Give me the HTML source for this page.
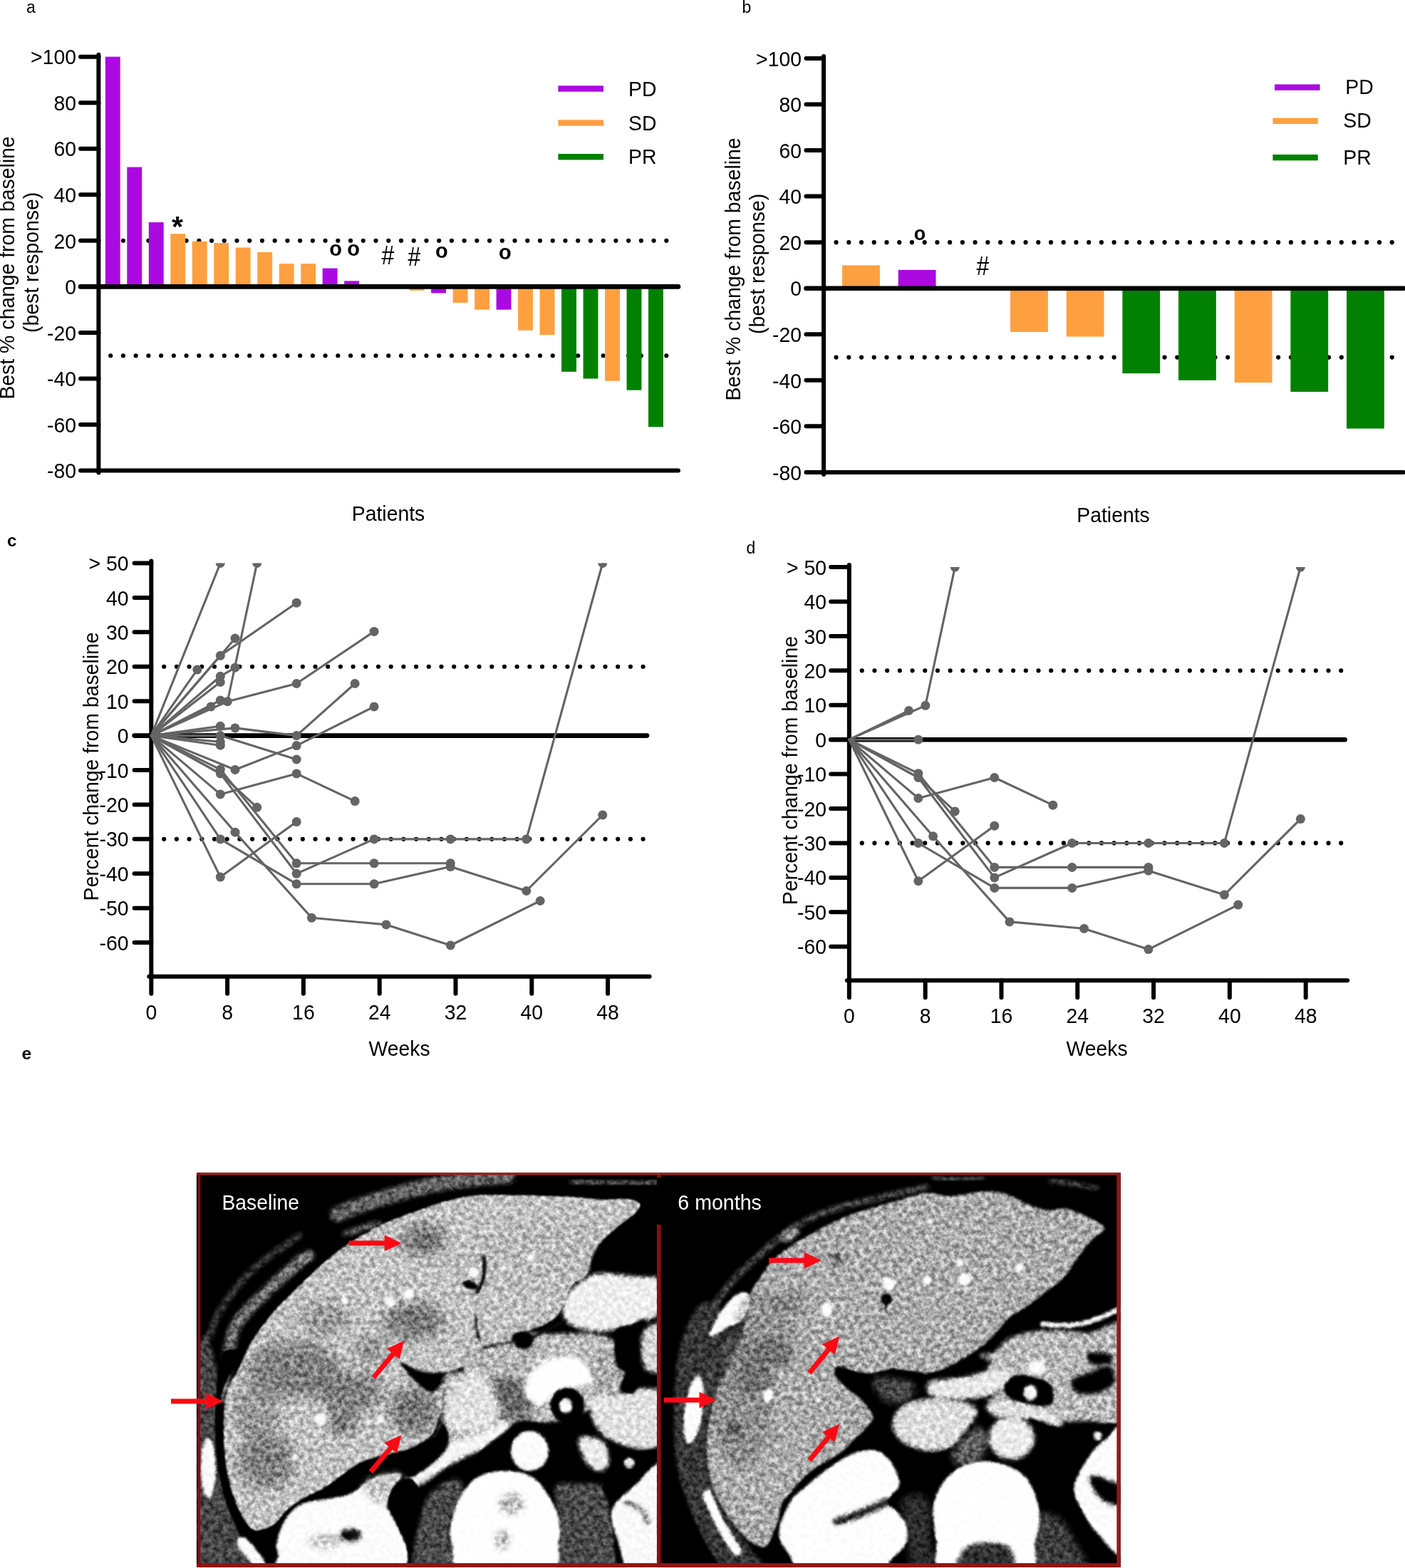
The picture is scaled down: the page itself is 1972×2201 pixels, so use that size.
<!DOCTYPE html>
<html lang="en"><head><meta charset="utf-8"><title>Figure</title>
<style>html,body{margin:0;padding:0;background:#fff}body{width:1972px;height:2201px;overflow:hidden}svg{display:block}text{font-family:'Liberation Sans', Arial, Helvetica, sans-serif}</style>
</head><body>
<svg width="1972" height="2201" viewBox="0 0 1972 2201">
<rect width="1972" height="2201" fill="#fff"/>
<text transform="translate(37 17.7)" font-size="23">a</text>
<text transform="translate(1041.5 17.7)" font-size="23">b</text>
<text transform="translate(10 766.6)" font-size="24" font-weight="bold">c</text>
<text transform="translate(1047.5 776.8)" font-size="23">d</text>
<text transform="translate(30.6 1487)" font-size="24.6" font-weight="bold">e</text>
<line x1="155.2" y1="337.84999999999997" x2="936" y2="337.84999999999997" stroke="#000" stroke-width="6.2" stroke-linecap="round" stroke-dasharray="0 17.73"/>
<line x1="155.2" y1="499.22499999999997" x2="936" y2="499.22499999999997" stroke="#000" stroke-width="6.2" stroke-linecap="round" stroke-dasharray="0 17.73"/>
<rect x="147.80" y="79.65" width="20.9" height="322.75" fill="#ab09e2"/>
<rect x="178.29" y="234.57" width="20.9" height="167.83" fill="#ab09e2"/>
<rect x="208.78" y="312.03" width="20.9" height="90.37" fill="#ab09e2"/>
<rect x="239.27" y="328.17" width="20.9" height="74.23" fill="#ffa040"/>
<rect x="269.76" y="338.82" width="20.9" height="63.58" fill="#ffa040"/>
<rect x="300.25" y="341.08" width="20.9" height="61.32" fill="#ffa040"/>
<rect x="330.74" y="347.53" width="20.9" height="54.87" fill="#ffa040"/>
<rect x="361.23" y="353.99" width="20.9" height="48.41" fill="#ffa040"/>
<rect x="391.72" y="370.12" width="20.9" height="32.27" fill="#ffa040"/>
<rect x="422.21" y="370.12" width="20.9" height="32.27" fill="#ffa040"/>
<rect x="452.70" y="376.58" width="20.9" height="25.82" fill="#ab09e2"/>
<rect x="483.19" y="394.33" width="20.9" height="8.07" fill="#ab09e2"/>
<rect x="574.66" y="402.40" width="20.9" height="5.49" fill="#ffa040"/>
<rect x="605.15" y="402.40" width="20.9" height="9.04" fill="#ab09e2"/>
<rect x="635.64" y="402.40" width="20.9" height="22.59" fill="#ffa040"/>
<rect x="666.13" y="402.40" width="20.9" height="32.27" fill="#ffa040"/>
<rect x="696.62" y="402.40" width="20.9" height="32.27" fill="#ab09e2"/>
<rect x="727.11" y="402.40" width="20.9" height="61.32" fill="#ffa040"/>
<rect x="757.60" y="402.40" width="20.9" height="67.78" fill="#ffa040"/>
<rect x="788.09" y="402.40" width="20.9" height="119.42" fill="#018001"/>
<rect x="818.58" y="402.40" width="20.9" height="129.10" fill="#018001"/>
<rect x="849.07" y="402.40" width="20.9" height="132.33" fill="#ffa040"/>
<rect x="879.56" y="402.40" width="20.9" height="145.24" fill="#018001"/>
<rect x="910.05" y="402.40" width="20.9" height="196.88" fill="#018001"/>
<line x1="138.4" y1="76.64999999999998" x2="138.4" y2="663.5999999999999" stroke="#000" stroke-width="6" stroke-linecap="round"/>
<line x1="113" y1="402.4" x2="952" y2="402.4" stroke="#000" stroke-width="6.6" stroke-linecap="round"/>
<line x1="113" y1="660.5999999999999" x2="952" y2="660.5999999999999" stroke="#000" stroke-width="6" stroke-linecap="round"/>
<line x1="113" y1="79.64999999999998" x2="138.4" y2="79.64999999999998" stroke="#000" stroke-width="6" stroke-linecap="round"/>
<line x1="113" y1="144.2" x2="138.4" y2="144.2" stroke="#000" stroke-width="6" stroke-linecap="round"/>
<line x1="113" y1="208.74999999999997" x2="138.4" y2="208.74999999999997" stroke="#000" stroke-width="6" stroke-linecap="round"/>
<line x1="113" y1="273.29999999999995" x2="138.4" y2="273.29999999999995" stroke="#000" stroke-width="6" stroke-linecap="round"/>
<line x1="113" y1="337.84999999999997" x2="138.4" y2="337.84999999999997" stroke="#000" stroke-width="6" stroke-linecap="round"/>
<line x1="113" y1="466.95" x2="138.4" y2="466.95" stroke="#000" stroke-width="6" stroke-linecap="round"/>
<line x1="113" y1="531.5" x2="138.4" y2="531.5" stroke="#000" stroke-width="6" stroke-linecap="round"/>
<line x1="113" y1="596.05" x2="138.4" y2="596.05" stroke="#000" stroke-width="6" stroke-linecap="round"/>
<text transform="translate(107 90.34999999999998) scale(1 1.06)" font-size="28.4" text-anchor="end">&gt;100</text>
<text transform="translate(107 154.89999999999998) scale(1 1.06)" font-size="28.4" text-anchor="end">80</text>
<text transform="translate(107 219.44999999999996) scale(1 1.06)" font-size="28.4" text-anchor="end">60</text>
<text transform="translate(107 283.99999999999994) scale(1 1.06)" font-size="28.4" text-anchor="end">40</text>
<text transform="translate(107 348.54999999999995) scale(1 1.06)" font-size="28.4" text-anchor="end">20</text>
<text transform="translate(107 413.09999999999997) scale(1 1.06)" font-size="28.4" text-anchor="end">0</text>
<text transform="translate(107 477.65) scale(1 1.06)" font-size="28.4" text-anchor="end">-20</text>
<text transform="translate(107 542.2) scale(1 1.06)" font-size="28.4" text-anchor="end">-40</text>
<text transform="translate(107 606.75) scale(1 1.06)" font-size="28.4" text-anchor="end">-60</text>
<text transform="translate(107 671.3) scale(1 1.06)" font-size="28.4" text-anchor="end">-80</text>
<text transform="translate(20 376) rotate(-90) scale(1 1.06)" font-size="28.4" text-anchor="middle">Best % change from baseline</text>
<text transform="translate(54 368.4) rotate(-90) scale(1 1.06)" font-size="28.4" text-anchor="middle">(best response)</text>
<text transform="translate(545 731) scale(1 1.06)" font-size="28.4" text-anchor="middle">Patients</text>
<rect x="783.4" y="120.3" width="63.60000000000002" height="8.4" fill="#ab09e2"/>
<text transform="translate(882 134.8) scale(1 1.06)" font-size="28.4">PD</text>
<rect x="783.4" y="168.3" width="63.60000000000002" height="8.4" fill="#ffa040"/>
<text transform="translate(882 182.5) scale(1 1.06)" font-size="28.4">SD</text>
<rect x="783.4" y="216.0" width="63.60000000000002" height="8.4" fill="#018001"/>
<text transform="translate(882 230.2) scale(1 1.06)" font-size="28.4">PR</text>
<text transform="translate(249 332.3)" font-size="41" text-anchor="middle" font-weight="bold">*</text>
<text transform="translate(471 358.5)" font-size="29" text-anchor="middle" font-weight="bold">o</text>
<text transform="translate(496 358.5)" font-size="29" text-anchor="middle" font-weight="bold">o</text>
<text transform="translate(544.5 371) scale(1 1.14)" font-size="32" text-anchor="middle">#</text>
<text transform="translate(581.3 372.5) scale(1 1.14)" font-size="32" text-anchor="middle">#</text>
<text transform="translate(619.8 362)" font-size="29" text-anchor="middle" font-weight="bold">o</text>
<text transform="translate(708.8 363.5)" font-size="29" text-anchor="middle" font-weight="bold">o</text>
<line x1="1173.6" y1="340.15" x2="1954" y2="340.15" stroke="#000" stroke-width="6.2" stroke-linecap="round" stroke-dasharray="0 17.73"/>
<line x1="1173.6" y1="501.525" x2="1954" y2="501.525" stroke="#000" stroke-width="6.2" stroke-linecap="round" stroke-dasharray="0 17.73"/>
<rect x="1182.10" y="372.43" width="52.8" height="32.27" fill="#ffa040"/>
<rect x="1260.76" y="378.88" width="52.8" height="25.82" fill="#ab09e2"/>
<rect x="1418.08" y="404.70" width="52.8" height="61.32" fill="#ffa040"/>
<rect x="1496.74" y="404.70" width="52.8" height="67.78" fill="#ffa040"/>
<rect x="1575.40" y="404.70" width="52.8" height="119.42" fill="#018001"/>
<rect x="1654.06" y="404.70" width="52.8" height="129.10" fill="#018001"/>
<rect x="1732.72" y="404.70" width="52.8" height="132.33" fill="#ffa040"/>
<rect x="1811.38" y="404.70" width="52.8" height="145.24" fill="#018001"/>
<rect x="1890.04" y="404.70" width="52.8" height="196.88" fill="#018001"/>
<line x1="1156.1" y1="78.94999999999999" x2="1156.1" y2="665.9" stroke="#000" stroke-width="6" stroke-linecap="round"/>
<line x1="1131.5" y1="404.7" x2="1970" y2="404.7" stroke="#000" stroke-width="6.6" stroke-linecap="round"/>
<line x1="1131.5" y1="662.9" x2="1970" y2="662.9" stroke="#000" stroke-width="6" stroke-linecap="round"/>
<line x1="1131.5" y1="81.94999999999999" x2="1156.1" y2="81.94999999999999" stroke="#000" stroke-width="6" stroke-linecap="round"/>
<line x1="1131.5" y1="146.5" x2="1156.1" y2="146.5" stroke="#000" stroke-width="6" stroke-linecap="round"/>
<line x1="1131.5" y1="211.04999999999998" x2="1156.1" y2="211.04999999999998" stroke="#000" stroke-width="6" stroke-linecap="round"/>
<line x1="1131.5" y1="275.6" x2="1156.1" y2="275.6" stroke="#000" stroke-width="6" stroke-linecap="round"/>
<line x1="1131.5" y1="340.15" x2="1156.1" y2="340.15" stroke="#000" stroke-width="6" stroke-linecap="round"/>
<line x1="1131.5" y1="469.25" x2="1156.1" y2="469.25" stroke="#000" stroke-width="6" stroke-linecap="round"/>
<line x1="1131.5" y1="533.8" x2="1156.1" y2="533.8" stroke="#000" stroke-width="6" stroke-linecap="round"/>
<line x1="1131.5" y1="598.35" x2="1156.1" y2="598.35" stroke="#000" stroke-width="6" stroke-linecap="round"/>
<text transform="translate(1125 92.64999999999999) scale(1 1.06)" font-size="28.4" text-anchor="end">&gt;100</text>
<text transform="translate(1125 157.2) scale(1 1.06)" font-size="28.4" text-anchor="end">80</text>
<text transform="translate(1125 221.74999999999997) scale(1 1.06)" font-size="28.4" text-anchor="end">60</text>
<text transform="translate(1125 286.3) scale(1 1.06)" font-size="28.4" text-anchor="end">40</text>
<text transform="translate(1125 350.84999999999997) scale(1 1.06)" font-size="28.4" text-anchor="end">20</text>
<text transform="translate(1125 415.4) scale(1 1.06)" font-size="28.4" text-anchor="end">0</text>
<text transform="translate(1125 479.95) scale(1 1.06)" font-size="28.4" text-anchor="end">-20</text>
<text transform="translate(1125 544.5) scale(1 1.06)" font-size="28.4" text-anchor="end">-40</text>
<text transform="translate(1125 609.0500000000001) scale(1 1.06)" font-size="28.4" text-anchor="end">-60</text>
<text transform="translate(1125 673.6) scale(1 1.06)" font-size="28.4" text-anchor="end">-80</text>
<text transform="translate(1039 378) rotate(-90) scale(1 1.06)" font-size="28.4" text-anchor="middle">Best % change from baseline</text>
<text transform="translate(1073 370.4) rotate(-90) scale(1 1.06)" font-size="28.4" text-anchor="middle">(best response)</text>
<text transform="translate(1562.5 733) scale(1 1.06)" font-size="28.4" text-anchor="middle">Patients</text>
<rect x="1789.1" y="118.39999999999999" width="63.5" height="8.4" fill="#ab09e2"/>
<text transform="translate(1888.3 132.2) scale(1 1.06)" font-size="28.4">PD</text>
<rect x="1786.4" y="165.60000000000002" width="63.299999999999955" height="8.4" fill="#ffa040"/>
<text transform="translate(1885.3 179.4) scale(1 1.06)" font-size="28.4">SD</text>
<rect x="1786.4" y="216.9" width="63.299999999999955" height="8.4" fill="#018001"/>
<text transform="translate(1885.3 231) scale(1 1.06)" font-size="28.4">PR</text>
<text transform="translate(1291 337.4)" font-size="27" text-anchor="middle" font-weight="bold">o</text>
<text transform="translate(1379.5 386) scale(1 1.14)" font-size="32" text-anchor="middle">#</text>
<line x1="230.2" y1="935.7599999999999" x2="904" y2="935.7599999999999" stroke="#000" stroke-width="6.2" stroke-linecap="round" stroke-dasharray="0 17.695"/>
<line x1="230.2" y1="1177.86" x2="904" y2="1177.86" stroke="#000" stroke-width="6.2" stroke-linecap="round" stroke-dasharray="0 17.695"/>
<line x1="212.3" y1="787.4999999999999" x2="212.3" y2="1394.7" stroke="#000" stroke-width="6" stroke-linecap="round"/>
<line x1="188.6" y1="1032.6" x2="908" y2="1032.6" stroke="#000" stroke-width="6.6" stroke-linecap="round"/>
<line x1="209.3" y1="1370.7" x2="911.6" y2="1370.7" stroke="#000" stroke-width="6" stroke-linecap="round"/>
<line x1="188.6" y1="790.4999999999999" x2="212.3" y2="790.4999999999999" stroke="#000" stroke-width="6" stroke-linecap="round"/>
<line x1="188.6" y1="838.92" x2="212.3" y2="838.92" stroke="#000" stroke-width="6" stroke-linecap="round"/>
<line x1="188.6" y1="887.3399999999999" x2="212.3" y2="887.3399999999999" stroke="#000" stroke-width="6" stroke-linecap="round"/>
<line x1="188.6" y1="935.7599999999999" x2="212.3" y2="935.7599999999999" stroke="#000" stroke-width="6" stroke-linecap="round"/>
<line x1="188.6" y1="984.18" x2="212.3" y2="984.18" stroke="#000" stroke-width="6" stroke-linecap="round"/>
<line x1="188.6" y1="1081.02" x2="212.3" y2="1081.02" stroke="#000" stroke-width="6" stroke-linecap="round"/>
<line x1="188.6" y1="1129.4399999999998" x2="212.3" y2="1129.4399999999998" stroke="#000" stroke-width="6" stroke-linecap="round"/>
<line x1="188.6" y1="1177.86" x2="212.3" y2="1177.86" stroke="#000" stroke-width="6" stroke-linecap="round"/>
<line x1="188.6" y1="1226.28" x2="212.3" y2="1226.28" stroke="#000" stroke-width="6" stroke-linecap="round"/>
<line x1="188.6" y1="1274.6999999999998" x2="212.3" y2="1274.6999999999998" stroke="#000" stroke-width="6" stroke-linecap="round"/>
<line x1="188.6" y1="1323.12" x2="212.3" y2="1323.12" stroke="#000" stroke-width="6" stroke-linecap="round"/>
<text transform="translate(180.5 801.0999999999999) scale(1 1.06)" font-size="28.4" text-anchor="end">&gt; 50</text>
<text transform="translate(180.5 849.52) scale(1 1.06)" font-size="28.4" text-anchor="end">40</text>
<text transform="translate(180.5 897.9399999999999) scale(1 1.06)" font-size="28.4" text-anchor="end">30</text>
<text transform="translate(180.5 946.3599999999999) scale(1 1.06)" font-size="28.4" text-anchor="end">20</text>
<text transform="translate(180.5 994.78) scale(1 1.06)" font-size="28.4" text-anchor="end">10</text>
<text transform="translate(180.5 1043.1999999999998) scale(1 1.06)" font-size="28.4" text-anchor="end">0</text>
<text transform="translate(180.5 1091.62) scale(1 1.06)" font-size="28.4" text-anchor="end">-10</text>
<text transform="translate(180.5 1140.0399999999997) scale(1 1.06)" font-size="28.4" text-anchor="end">-20</text>
<text transform="translate(180.5 1188.4599999999998) scale(1 1.06)" font-size="28.4" text-anchor="end">-30</text>
<text transform="translate(180.5 1236.8799999999999) scale(1 1.06)" font-size="28.4" text-anchor="end">-40</text>
<text transform="translate(180.5 1285.2999999999997) scale(1 1.06)" font-size="28.4" text-anchor="end">-50</text>
<text transform="translate(180.5 1333.7199999999998) scale(1 1.06)" font-size="28.4" text-anchor="end">-60</text>
<text transform="translate(212.3 1430.6) scale(1 1.06)" font-size="28.4" text-anchor="middle">0</text>
<line x1="319.1" y1="1370.7" x2="319.1" y2="1394.7" stroke="#000" stroke-width="6" stroke-linecap="round"/>
<text transform="translate(319.1 1430.6) scale(1 1.06)" font-size="28.4" text-anchor="middle">8</text>
<line x1="425.9" y1="1370.7" x2="425.9" y2="1394.7" stroke="#000" stroke-width="6" stroke-linecap="round"/>
<text transform="translate(425.9 1430.6) scale(1 1.06)" font-size="28.4" text-anchor="middle">16</text>
<line x1="532.7" y1="1370.7" x2="532.7" y2="1394.7" stroke="#000" stroke-width="6" stroke-linecap="round"/>
<text transform="translate(532.7 1430.6) scale(1 1.06)" font-size="28.4" text-anchor="middle">24</text>
<line x1="639.5" y1="1370.7" x2="639.5" y2="1394.7" stroke="#000" stroke-width="6" stroke-linecap="round"/>
<text transform="translate(639.5 1430.6) scale(1 1.06)" font-size="28.4" text-anchor="middle">32</text>
<line x1="746.3" y1="1370.7" x2="746.3" y2="1394.7" stroke="#000" stroke-width="6" stroke-linecap="round"/>
<text transform="translate(746.3 1430.6) scale(1 1.06)" font-size="28.4" text-anchor="middle">40</text>
<line x1="853.0999999999999" y1="1370.7" x2="853.0999999999999" y2="1394.7" stroke="#000" stroke-width="6" stroke-linecap="round"/>
<text transform="translate(853.0999999999999 1430.6) scale(1 1.06)" font-size="28.4" text-anchor="middle">48</text>
<text transform="translate(560.5 1482) scale(1 1.06)" font-size="28.4" text-anchor="middle">Weeks</text>
<text transform="translate(138 1076) rotate(-90) scale(1 1.06)" font-size="28.4" text-anchor="middle">Percent change from baseline</text>
<clipPath id="cc"><rect x="202.3" y="790.4999999999999" width="760" height="700"/></clipPath>
<g clip-path="url(#cc)" stroke="#646464" fill="none" stroke-width="3.1" stroke-linejoin="round" stroke-linecap="round">
<polyline points="212.3,1032.6 296.0,991.9"/>
<polyline points="212.3,1032.6 319.3,984.7 360.7,790.5"/>
<polyline points="212.3,1032.6 309.3,1032.6"/>
<polyline points="212.3,1032.6 309.3,1080.1 416.2,1211.8 525.1,1211.8 632.3,1211.8"/>
<polyline points="212.3,1032.6 309.3,1085.9 416.2,1226.3 525.1,1177.9 632.3,1177.9 738.8,1177.9 845.8,790.5"/>
<polyline points="212.3,1032.6 309.3,1085.9 360.7,1133.3"/>
<polyline points="212.3,1032.6 309.3,1114.9 416.2,1085.9 498.2,1124.6"/>
<polyline points="212.3,1032.6 309.3,1231.1 416.2,1153.6"/>
<polyline points="212.3,1032.6 309.3,1177.9 416.2,1240.8 525.1,1240.8 632.3,1216.6 738.8,1250.5 845.8,1144.0"/>
<polyline points="212.3,1032.6 330.0,1168.2 437.4,1288.3 542.0,1297.9 632.3,1327.0 758.2,1264.5"/>
<polyline points="212.3,1032.6 309.3,790.5"/>
<polyline points="212.3,1032.6 276.8,940.1"/>
<polyline points="212.3,1032.6 309.3,920.3 416.2,846.2"/>
<polyline points="212.3,1032.6 309.3,920.3 330.0,896.1"/>
<polyline points="212.3,1032.6 309.3,949.3 330.0,937.2"/>
<polyline points="212.3,1032.6 309.3,957.5"/>
<polyline points="212.3,1032.6 309.3,983.0 319.3,984.7 416.2,959.5 525.1,886.4"/>
<polyline points="212.3,1032.6 309.3,1019.3"/>
<polyline points="212.3,1032.6 330.0,1021.9 416.2,1032.6 498.2,959.5"/>
<polyline points="212.3,1032.6 309.3,1041.3"/>
<polyline points="212.3,1032.6 309.3,1046.2"/>
<polyline points="212.3,1032.6 309.3,1032.6 416.2,1066.0"/>
<polyline points="212.3,1032.6 330.0,1080.5 416.2,1046.6 525.1,991.9"/>
</g>
<g clip-path="url(#cc)" fill="#646464">
<circle cx="296.0" cy="991.9" r="6.5"/>
<circle cx="319.3" cy="984.7" r="6.5"/>
<circle cx="360.7" cy="790.5" r="6.5"/>
<circle cx="309.3" cy="1032.6" r="6.5"/>
<circle cx="309.3" cy="1080.1" r="6.5"/>
<circle cx="416.2" cy="1211.8" r="6.5"/>
<circle cx="525.1" cy="1211.8" r="6.5"/>
<circle cx="632.3" cy="1211.8" r="6.5"/>
<circle cx="309.3" cy="1085.9" r="6.5"/>
<circle cx="416.2" cy="1226.3" r="6.5"/>
<circle cx="525.1" cy="1177.9" r="6.5"/>
<circle cx="632.3" cy="1177.9" r="6.5"/>
<circle cx="738.8" cy="1177.9" r="6.5"/>
<circle cx="845.8" cy="790.5" r="6.5"/>
<circle cx="360.7" cy="1133.3" r="6.5"/>
<circle cx="309.3" cy="1114.9" r="6.5"/>
<circle cx="416.2" cy="1085.9" r="6.5"/>
<circle cx="498.2" cy="1124.6" r="6.5"/>
<circle cx="309.3" cy="1231.1" r="6.5"/>
<circle cx="416.2" cy="1153.6" r="6.5"/>
<circle cx="309.3" cy="1177.9" r="6.5"/>
<circle cx="416.2" cy="1240.8" r="6.5"/>
<circle cx="525.1" cy="1240.8" r="6.5"/>
<circle cx="632.3" cy="1216.6" r="6.5"/>
<circle cx="738.8" cy="1250.5" r="6.5"/>
<circle cx="845.8" cy="1144.0" r="6.5"/>
<circle cx="330.0" cy="1168.2" r="6.5"/>
<circle cx="437.4" cy="1288.3" r="6.5"/>
<circle cx="542.0" cy="1297.9" r="6.5"/>
<circle cx="632.3" cy="1327.0" r="6.5"/>
<circle cx="758.2" cy="1264.5" r="6.5"/>
<circle cx="309.3" cy="790.5" r="6.5"/>
<circle cx="276.8" cy="940.1" r="6.5"/>
<circle cx="309.3" cy="920.3" r="6.5"/>
<circle cx="416.2" cy="846.2" r="6.5"/>
<circle cx="330.0" cy="896.1" r="6.5"/>
<circle cx="309.3" cy="949.3" r="6.5"/>
<circle cx="330.0" cy="937.2" r="6.5"/>
<circle cx="309.3" cy="957.5" r="6.5"/>
<circle cx="309.3" cy="983.0" r="6.5"/>
<circle cx="416.2" cy="959.5" r="6.5"/>
<circle cx="525.1" cy="886.4" r="6.5"/>
<circle cx="309.3" cy="1019.3" r="6.5"/>
<circle cx="330.0" cy="1021.9" r="6.5"/>
<circle cx="416.2" cy="1032.6" r="6.5"/>
<circle cx="498.2" cy="959.5" r="6.5"/>
<circle cx="309.3" cy="1041.3" r="6.5"/>
<circle cx="309.3" cy="1046.2" r="6.5"/>
<circle cx="416.2" cy="1066.0" r="6.5"/>
<circle cx="330.0" cy="1080.5" r="6.5"/>
<circle cx="416.2" cy="1046.6" r="6.5"/>
<circle cx="525.1" cy="991.9" r="6.5"/>
</g>
<line x1="1209.8" y1="941.3599999999998" x2="1883.6" y2="941.3599999999998" stroke="#000" stroke-width="6.2" stroke-linecap="round" stroke-dasharray="0 17.695"/>
<line x1="1209.8" y1="1183.4599999999998" x2="1883.6" y2="1183.4599999999998" stroke="#000" stroke-width="6.2" stroke-linecap="round" stroke-dasharray="0 17.695"/>
<line x1="1191.9" y1="793.0999999999998" x2="1191.9" y2="1400.3" stroke="#000" stroke-width="6" stroke-linecap="round"/>
<line x1="1166.2" y1="1038.1999999999998" x2="1887.6" y2="1038.1999999999998" stroke="#000" stroke-width="6.6" stroke-linecap="round"/>
<line x1="1188.9" y1="1376.3" x2="1891.2" y2="1376.3" stroke="#000" stroke-width="6" stroke-linecap="round"/>
<line x1="1166.2" y1="796.0999999999998" x2="1191.9" y2="796.0999999999998" stroke="#000" stroke-width="6" stroke-linecap="round"/>
<line x1="1166.2" y1="844.5199999999999" x2="1191.9" y2="844.5199999999999" stroke="#000" stroke-width="6" stroke-linecap="round"/>
<line x1="1166.2" y1="892.9399999999998" x2="1191.9" y2="892.9399999999998" stroke="#000" stroke-width="6" stroke-linecap="round"/>
<line x1="1166.2" y1="941.3599999999998" x2="1191.9" y2="941.3599999999998" stroke="#000" stroke-width="6" stroke-linecap="round"/>
<line x1="1166.2" y1="989.7799999999999" x2="1191.9" y2="989.7799999999999" stroke="#000" stroke-width="6" stroke-linecap="round"/>
<line x1="1166.2" y1="1086.62" x2="1191.9" y2="1086.62" stroke="#000" stroke-width="6" stroke-linecap="round"/>
<line x1="1166.2" y1="1135.0399999999997" x2="1191.9" y2="1135.0399999999997" stroke="#000" stroke-width="6" stroke-linecap="round"/>
<line x1="1166.2" y1="1183.4599999999998" x2="1191.9" y2="1183.4599999999998" stroke="#000" stroke-width="6" stroke-linecap="round"/>
<line x1="1166.2" y1="1231.8799999999999" x2="1191.9" y2="1231.8799999999999" stroke="#000" stroke-width="6" stroke-linecap="round"/>
<line x1="1166.2" y1="1280.2999999999997" x2="1191.9" y2="1280.2999999999997" stroke="#000" stroke-width="6" stroke-linecap="round"/>
<line x1="1166.2" y1="1328.7199999999998" x2="1191.9" y2="1328.7199999999998" stroke="#000" stroke-width="6" stroke-linecap="round"/>
<text transform="translate(1160.1 806.6999999999998) scale(1 1.06)" font-size="28.4" text-anchor="end">&gt; 50</text>
<text transform="translate(1160.1 855.1199999999999) scale(1 1.06)" font-size="28.4" text-anchor="end">40</text>
<text transform="translate(1160.1 903.5399999999998) scale(1 1.06)" font-size="28.4" text-anchor="end">30</text>
<text transform="translate(1160.1 951.9599999999998) scale(1 1.06)" font-size="28.4" text-anchor="end">20</text>
<text transform="translate(1160.1 1000.3799999999999) scale(1 1.06)" font-size="28.4" text-anchor="end">10</text>
<text transform="translate(1160.1 1048.7999999999997) scale(1 1.06)" font-size="28.4" text-anchor="end">0</text>
<text transform="translate(1160.1 1097.2199999999998) scale(1 1.06)" font-size="28.4" text-anchor="end">-10</text>
<text transform="translate(1160.1 1145.6399999999996) scale(1 1.06)" font-size="28.4" text-anchor="end">-20</text>
<text transform="translate(1160.1 1194.0599999999997) scale(1 1.06)" font-size="28.4" text-anchor="end">-30</text>
<text transform="translate(1160.1 1242.4799999999998) scale(1 1.06)" font-size="28.4" text-anchor="end">-40</text>
<text transform="translate(1160.1 1290.8999999999996) scale(1 1.06)" font-size="28.4" text-anchor="end">-50</text>
<text transform="translate(1160.1 1339.3199999999997) scale(1 1.06)" font-size="28.4" text-anchor="end">-60</text>
<text transform="translate(1191.9 1436.1999999999998) scale(1 1.06)" font-size="28.4" text-anchor="middle">0</text>
<line x1="1298.7" y1="1376.3" x2="1298.7" y2="1400.3" stroke="#000" stroke-width="6" stroke-linecap="round"/>
<text transform="translate(1298.7 1436.1999999999998) scale(1 1.06)" font-size="28.4" text-anchor="middle">8</text>
<line x1="1405.5" y1="1376.3" x2="1405.5" y2="1400.3" stroke="#000" stroke-width="6" stroke-linecap="round"/>
<text transform="translate(1405.5 1436.1999999999998) scale(1 1.06)" font-size="28.4" text-anchor="middle">16</text>
<line x1="1512.3000000000002" y1="1376.3" x2="1512.3000000000002" y2="1400.3" stroke="#000" stroke-width="6" stroke-linecap="round"/>
<text transform="translate(1512.3000000000002 1436.1999999999998) scale(1 1.06)" font-size="28.4" text-anchor="middle">24</text>
<line x1="1619.1000000000001" y1="1376.3" x2="1619.1000000000001" y2="1400.3" stroke="#000" stroke-width="6" stroke-linecap="round"/>
<text transform="translate(1619.1000000000001 1436.1999999999998) scale(1 1.06)" font-size="28.4" text-anchor="middle">32</text>
<line x1="1725.9" y1="1376.3" x2="1725.9" y2="1400.3" stroke="#000" stroke-width="6" stroke-linecap="round"/>
<text transform="translate(1725.9 1436.1999999999998) scale(1 1.06)" font-size="28.4" text-anchor="middle">40</text>
<line x1="1832.7" y1="1376.3" x2="1832.7" y2="1400.3" stroke="#000" stroke-width="6" stroke-linecap="round"/>
<text transform="translate(1832.7 1436.1999999999998) scale(1 1.06)" font-size="28.4" text-anchor="middle">48</text>
<text transform="translate(1539.6 1482) scale(1 1.06)" font-size="28.4" text-anchor="middle">Weeks</text>
<text transform="translate(1119.1 1081.6) rotate(-90) scale(1 1.06)" font-size="28.4" text-anchor="middle">Percent change from baseline</text>
<clipPath id="cd"><rect x="1181.9" y="796.0999999999998" width="760" height="700"/></clipPath>
<g clip-path="url(#cd)" stroke="#646464" fill="none" stroke-width="3.1" stroke-linejoin="round" stroke-linecap="round">
<polyline points="1191.9,1038.2 1275.6,997.5"/>
<polyline points="1191.9,1038.2 1298.9,990.3 1340.3,796.1"/>
<polyline points="1191.9,1038.2 1288.9,1038.2"/>
<polyline points="1191.9,1038.2 1288.9,1085.7 1395.8,1217.4 1504.7,1217.4 1611.9,1217.4"/>
<polyline points="1191.9,1038.2 1288.9,1091.5 1395.8,1231.9 1504.7,1183.5 1611.9,1183.5 1718.4,1183.5 1825.4,796.1"/>
<polyline points="1191.9,1038.2 1288.9,1091.5 1340.3,1138.9"/>
<polyline points="1191.9,1038.2 1288.9,1120.5 1395.8,1091.5 1477.8,1130.2"/>
<polyline points="1191.9,1038.2 1288.9,1236.7 1395.8,1159.2"/>
<polyline points="1191.9,1038.2 1288.9,1183.5 1395.8,1246.4 1504.7,1246.4 1611.9,1222.2 1718.4,1256.1 1825.4,1149.6"/>
<polyline points="1191.9,1038.2 1309.6,1173.8 1417.0,1293.9 1521.6,1303.5 1611.9,1332.6 1737.8,1270.1"/>
</g>
<g clip-path="url(#cd)" fill="#646464">
<circle cx="1275.6" cy="997.5" r="6.5"/>
<circle cx="1298.9" cy="990.3" r="6.5"/>
<circle cx="1340.3" cy="796.1" r="6.5"/>
<circle cx="1288.9" cy="1038.2" r="6.5"/>
<circle cx="1288.9" cy="1085.7" r="6.5"/>
<circle cx="1395.8" cy="1217.4" r="6.5"/>
<circle cx="1504.7" cy="1217.4" r="6.5"/>
<circle cx="1611.9" cy="1217.4" r="6.5"/>
<circle cx="1288.9" cy="1091.5" r="6.5"/>
<circle cx="1395.8" cy="1231.9" r="6.5"/>
<circle cx="1504.7" cy="1183.5" r="6.5"/>
<circle cx="1611.9" cy="1183.5" r="6.5"/>
<circle cx="1718.4" cy="1183.5" r="6.5"/>
<circle cx="1825.4" cy="796.1" r="6.5"/>
<circle cx="1340.3" cy="1138.9" r="6.5"/>
<circle cx="1288.9" cy="1120.5" r="6.5"/>
<circle cx="1395.8" cy="1091.5" r="6.5"/>
<circle cx="1477.8" cy="1130.2" r="6.5"/>
<circle cx="1288.9" cy="1236.7" r="6.5"/>
<circle cx="1395.8" cy="1159.2" r="6.5"/>
<circle cx="1288.9" cy="1183.5" r="6.5"/>
<circle cx="1395.8" cy="1246.4" r="6.5"/>
<circle cx="1504.7" cy="1246.4" r="6.5"/>
<circle cx="1611.9" cy="1222.2" r="6.5"/>
<circle cx="1718.4" cy="1256.1" r="6.5"/>
<circle cx="1825.4" cy="1149.6" r="6.5"/>
<circle cx="1309.6" cy="1173.8" r="6.5"/>
<circle cx="1417.0" cy="1293.9" r="6.5"/>
<circle cx="1521.6" cy="1303.5" r="6.5"/>
<circle cx="1611.9" cy="1332.6" r="6.5"/>
<circle cx="1737.8" cy="1270.1" r="6.5"/>
</g>
<defs>
<filter id="bl1" x="-30%" y="-30%" width="160%" height="160%"><feGaussianBlur stdDeviation="1.2"/></filter>
<filter id="bl2" x="-30%" y="-30%" width="160%" height="160%"><feGaussianBlur stdDeviation="2.5"/></filter>
<filter id="bl3" x="-40%" y="-40%" width="180%" height="180%"><feGaussianBlur stdDeviation="5"/></filter>
<filter id="bl4" x="-50%" y="-50%" width="200%" height="200%"><feGaussianBlur stdDeviation="9"/></filter>
<filter id="ctf" filterUnits="userSpaceOnUse" x="270" y="1640" width="1310" height="565" color-interpolation-filters="sRGB">
<feGaussianBlur in="SourceGraphic" stdDeviation="1.1" result="b"/>
<feTurbulence type="fractalNoise" baseFrequency="0.15 0.15" numOctaves="3" seed="7" result="n"/>
<feColorMatrix in="n" type="matrix" values="1.9 0 0 0 -0.45  1.9 0 0 0 -0.45  1.9 0 0 0 -0.45  0 0 0 0 1" result="ng0"/>
<feGaussianBlur in="ng0" stdDeviation="0.7" result="ng"/>
<feComponentTransfer in="b" result="m"><feFuncR type="table" tableValues="0.000 0.300 0.550 0.750 0.900 1.000 1.000 1.000 0.800 0.450 0.060"/><feFuncG type="table" tableValues="0.000 0.300 0.550 0.750 0.900 1.000 1.000 1.000 0.800 0.450 0.060"/><feFuncB type="table" tableValues="0.000 0.300 0.550 0.750 0.900 1.000 1.000 1.000 0.800 0.450 0.060"/></feComponentTransfer>
<feComposite in="m" in2="ng" operator="arithmetic" k1="1" k2="0" k3="0" k4="0" result="t"/>
<feComponentTransfer in="b" result="u"><feFuncR type="table" tableValues="0.000 0.034 0.079 0.135 0.202 0.280 0.380 0.480 0.624 0.801 0.987"/><feFuncG type="table" tableValues="0.000 0.034 0.079 0.135 0.202 0.280 0.380 0.480 0.624 0.801 0.987"/><feFuncB type="table" tableValues="0.000 0.034 0.079 0.135 0.202 0.280 0.380 0.480 0.624 0.801 0.987"/></feComponentTransfer>
<feComposite in="u" in2="t" operator="arithmetic" k1="0" k2="1" k3="0.44" k4="0"/>
</filter>
<clipPath id="clipA"><rect x="277" y="1647" width="646" height="552"/></clipPath>
<clipPath id="clipB"><rect x="923" y="1647" width="649" height="552"/></clipPath>
</defs>
<rect x="276" y="1646" width="1297" height="554" fill="#000"/>
<g filter="url(#ctf)">
<g clip-path="url(#clipA)"><rect x="270" y="1640" width="660" height="565" fill="#000"/><path d="M286.1,1911.4 C286.4,1908.3 283.9,1904.8 287.9,1892.5 C291.8,1880.2 299.0,1856.1 310.0,1837.9 C321.0,1819.6 335.7,1800.1 353.9,1782.9 C372.2,1765.7 408.7,1742.7 419.6,1734.6" fill="none" stroke="#373737" stroke-width="9" stroke-linecap="round" filter="url(#bl2)"/>
<path d="M473.6,1704.3 C481.3,1701.4 499.6,1693.6 520.0,1687.1 C540.4,1680.7 571.9,1671.1 595.7,1665.7 C619.5,1660.4 643.3,1657.5 662.9,1655.0 C682.4,1652.5 704.5,1651.4 712.9,1650.7" fill="none" stroke="#646464" stroke-width="21" stroke-linecap="round" filter="url(#bl2)"/>
<path d="M309.3,1961.4 C310.8,1953.6 314.8,1931.6 318.6,1914.6 C322.3,1897.7 322.3,1876.8 331.8,1859.6 C341.3,1842.4 361.1,1826.1 375.7,1811.4 C390.4,1796.8 410.1,1779.9 419.6,1771.8 C429.2,1763.7 430.7,1764.3 432.9,1762.9" fill="none" stroke="#737373" stroke-width="16" stroke-linecap="round" filter="url(#bl2)"/>
<path d="M485.7,1732.1 L529.6,1716.8" fill="none" stroke="#555555" stroke-width="9" stroke-linecap="round" filter="url(#bl2)"/>
<path d="M805.7,1657.9 C814.6,1658.5 840.1,1660.8 859.3,1661.4 C878.5,1662.0 910.8,1661.4 921.1,1661.4" fill="none" stroke="#464646" stroke-width="12" stroke-linecap="round" filter="url(#bl2)"/>
<path d="M278.8,1900.0 C282.1,1850.9 294.2,1889.0 298.6,1900.0 C303.0,1911.0 304.4,1944.0 305.2,1965.9 C305.9,1987.9 301.9,2011.7 303.0,2031.9 C304.1,2052.0 307.0,2068.5 311.8,2086.8 C316.5,2105.1 323.8,2123.8 331.5,2141.8 C339.2,2159.7 366.7,2185.7 357.9,2194.5 C349.1,2203.3 292.0,2243.6 278.8,2194.5 C265.6,2145.4 275.5,1949.1 278.8,1900.0Z" fill="#464646" filter="url(#bl2)"/>
<path d="M311.8,1900.0 C318.4,1889.0 341.1,1894.5 342.5,1900.0 C344.0,1905.5 326.0,1922.0 320.5,1933.0 C315.1,1944.0 311.8,1953.1 309.6,1965.9 C307.4,1978.8 307.0,1995.2 307.4,2009.9 C307.7,2024.5 309.2,2039.2 311.8,2053.8 C314.3,2068.5 318.0,2083.9 322.7,2097.8 C327.5,2111.7 333.7,2126.4 340.3,2137.4 C346.9,2148.4 354.2,2154.2 362.3,2163.7 C370.4,2173.3 388.7,2189.4 388.7,2194.5 C388.7,2199.6 371.1,2201.5 362.3,2194.5 C353.5,2187.5 344.0,2168.9 335.9,2152.7 C327.9,2136.6 319.5,2117.9 314.0,2097.8 C308.5,2077.7 304.8,2053.8 303.0,2031.9 C301.1,2009.9 301.5,1987.9 303.0,1965.9 C304.4,1944.0 305.2,1911.0 311.8,1900.0Z" fill="#000000"/>
<ellipse cx="292.4" cy="2060.4" rx="10.5" ry="42.0" fill="#fafafa" filter="url(#bl1)"/>
<path d="M340.3,2165.9 C342.5,2168.5 349.5,2176.4 353.5,2181.3 C357.5,2186.3 362.7,2193.2 364.5,2195.6" fill="none" stroke="#fafafa" stroke-width="17" stroke-linecap="round" filter="url(#bl1)"/>
<path d="M314.0,2000.0 C314.3,1983.0 315.3,1965.3 319.0,1952.0 C322.7,1938.7 330.2,1931.7 336.0,1920.0 C341.8,1908.3 345.5,1895.7 354.0,1882.0 C362.5,1868.3 376.0,1850.8 387.0,1838.0 C398.0,1825.2 409.0,1815.7 420.0,1805.0 C431.0,1794.3 442.0,1783.5 453.0,1774.0 C464.0,1764.5 475.0,1755.7 486.0,1748.0 C497.0,1740.3 508.0,1734.0 519.0,1728.0 C530.0,1722.0 539.2,1717.3 552.0,1712.0 C564.8,1706.7 583.7,1700.3 596.0,1696.0 C608.3,1691.7 613.7,1689.0 626.0,1686.0 C638.3,1683.0 651.7,1679.3 670.0,1678.0 C688.3,1676.7 714.0,1677.7 736.0,1678.0 C758.0,1678.3 783.7,1679.0 802.0,1680.0 C820.3,1681.0 833.2,1683.5 846.0,1684.0 C858.8,1684.5 870.3,1682.0 879.0,1683.0 C887.7,1684.0 896.5,1686.2 898.0,1690.0 C899.5,1693.8 894.2,1699.8 888.0,1706.0 C881.8,1712.2 869.5,1719.7 861.0,1727.0 C852.5,1734.3 842.5,1742.3 837.0,1750.0 C831.5,1757.7 830.3,1766.3 828.0,1773.0 C825.7,1779.7 827.3,1784.7 823.0,1790.0 C818.7,1795.3 807.0,1798.8 802.0,1805.0 C797.0,1811.2 796.7,1819.7 793.0,1827.0 C789.3,1834.3 785.8,1843.2 780.0,1849.0 C774.2,1854.8 766.2,1858.3 758.0,1862.0 C749.8,1865.7 738.0,1868.2 731.0,1871.0 C724.0,1873.8 725.5,1875.8 716.0,1879.0 C706.5,1882.2 682.8,1884.7 674.0,1890.0 C665.2,1895.3 668.7,1905.2 663.0,1911.0 C657.3,1916.8 646.8,1918.5 640.0,1925.0 C633.2,1931.5 625.0,1942.2 622.0,1950.0 C619.0,1957.8 623.2,1965.0 622.0,1972.0 C620.8,1979.0 617.7,1985.0 615.0,1992.0 C612.3,1999.0 612.2,2007.3 606.0,2014.0 C599.8,2020.7 588.2,2027.5 578.0,2032.0 C567.8,2036.5 556.0,2038.0 545.0,2041.0 C534.0,2044.0 521.2,2046.3 512.0,2050.0 C502.8,2053.7 499.2,2056.8 490.0,2063.0 C480.8,2069.2 468.0,2080.2 457.0,2087.0 C446.0,2093.8 433.2,2098.5 424.0,2104.0 C414.8,2109.5 408.7,2114.0 402.0,2120.0 C395.3,2126.0 391.3,2135.3 384.0,2140.0 C376.7,2144.7 365.0,2149.5 358.0,2148.0 C351.0,2146.5 347.2,2139.3 342.0,2131.0 C336.8,2122.7 331.2,2110.8 327.0,2098.0 C322.8,2085.2 319.2,2070.3 317.0,2054.0 C314.8,2037.7 313.7,2017.0 314.0,2000.0Z" fill="#c2c2c2"/>
<ellipse cx="595.0" cy="1740.0" rx="30.4" ry="21.4" fill="#5f5f5f" filter="url(#bl4)" opacity="0.8"/>
<ellipse cx="455.7" cy="1850.7" rx="35.7" ry="21.4" fill="#6e6e6e" filter="url(#bl4)" opacity="0.5"/>
<ellipse cx="580.7" cy="1854.3" rx="42.9" ry="26.8" fill="#646464" filter="url(#bl4)" opacity="0.75"/>
<ellipse cx="412.9" cy="1922.1" rx="64.3" ry="39.3" fill="#646464" filter="url(#bl4)" opacity="0.7"/>
<ellipse cx="491.4" cy="1954.3" rx="46.4" ry="28.6" fill="#646464" filter="url(#bl4)" opacity="0.7"/>
<ellipse cx="580.7" cy="1979.3" rx="33.9" ry="33.9" fill="#5f5f5f" filter="url(#bl4)" opacity="0.75"/>
<ellipse cx="480.7" cy="1997.1" rx="19.6" ry="16.1" fill="#464646" filter="url(#bl4)" opacity="0.7"/>
<ellipse cx="373.6" cy="2050.7" rx="39.3" ry="39.3" fill="#646464" filter="url(#bl4)" opacity="0.7"/>
<ellipse cx="520.0" cy="1893.6" rx="21.4" ry="17.9" fill="#696969" filter="url(#bl4)" opacity="0.6"/>
<ellipse cx="359.3" cy="1979.3" rx="32.1" ry="42.9" fill="#6e6e6e" filter="url(#bl4)" opacity="0.5"/>
<ellipse cx="752.1" cy="1757.9" rx="110.0" ry="45.0" fill="#b4b4b4" transform="rotate(-8 752.1 1757.9)" filter="url(#bl4)" opacity="0.5"/>
<ellipse cx="664.6" cy="1786.4" rx="7.1" ry="7.1" fill="#fafafa" filter="url(#bl1)"/>
<ellipse cx="573.6" cy="1816.8" rx="7.9" ry="7.9" fill="#fafafa" filter="url(#bl1)"/>
<ellipse cx="546.8" cy="1827.5" rx="7.1" ry="7.1" fill="#fafafa" filter="url(#bl1)"/>
<ellipse cx="745.0" cy="1765.0" rx="5.4" ry="5.4" fill="#fafafa" filter="url(#bl1)"/>
<ellipse cx="707.5" cy="1779.3" rx="4.3" ry="4.3" fill="#fafafa" filter="url(#bl1)"/>
<ellipse cx="450.4" cy="1991.8" rx="8.6" ry="8.6" fill="#fafafa" filter="url(#bl1)"/>
<ellipse cx="534.3" cy="1991.8" rx="5.0" ry="5.0" fill="#fafafa" filter="url(#bl1)"/>
<ellipse cx="484.3" cy="1825.7" rx="5.0" ry="5.0" fill="#fafafa" filter="url(#bl1)"/>
<ellipse cx="412.9" cy="2047.1" rx="4.3" ry="4.3" fill="#fafafa" filter="url(#bl1)"/>
<path d="M679.8,1765.3 C679.6,1770.0 680.3,1785.8 678.7,1793.8 C677.0,1801.9 671.4,1810.3 669.9,1813.6" fill="none" stroke="#000000" stroke-width="5" stroke-linecap="round" filter="url(#bl1)"/>
<ellipse cx="660.0" cy="1803.7" rx="11.0" ry="6.0" fill="#000000" transform="rotate(20 660.0 1803.7)" filter="url(#bl1)"/>
<path d="M667.7,1846.6 C668.1,1850.6 668.4,1863.8 669.9,1870.8 C671.4,1877.7 675.4,1885.4 676.5,1888.4" fill="none" stroke="#141414" stroke-width="4" stroke-linecap="round" filter="url(#bl1)"/>
<path d="M562.9,1913.2 C564.0,1910.7 580.7,1922.9 591.4,1925.0 C602.1,1927.1 615.8,1927.3 627.1,1925.7 C638.5,1924.2 655.7,1914.5 659.3,1915.7 C662.9,1916.9 655.1,1928.2 648.6,1932.9 C642.0,1937.5 627.1,1940.0 620.0,1943.6 C612.9,1947.1 611.7,1954.9 605.7,1954.3 C599.8,1953.7 591.4,1946.8 584.3,1940.0 C577.1,1933.2 561.7,1915.7 562.9,1913.2Z" fill="#000000" filter="url(#bl1)"/>
<path d="M829.2,1780.7 C829.0,1773.5 833.1,1757.0 844.6,1743.3 C856.2,1729.6 885.8,1706.7 898.5,1698.2 C911.1,1689.8 914.6,1693.3 920.4,1692.7 C926.3,1692.2 931.4,1677.4 933.6,1694.9 C935.8,1712.5 941.0,1782.1 933.6,1798.2 C926.3,1814.4 904.3,1793.7 889.7,1791.6 C875.0,1789.6 855.8,1788.0 845.7,1786.2 C835.6,1784.3 829.4,1787.8 829.2,1780.7Z" fill="#000000"/>
<path d="M797.4,1815.8 C802.9,1806.7 815.7,1798.6 823.7,1793.8 C831.8,1789.1 834.7,1787.6 845.7,1787.3 C856.7,1786.9 875.0,1789.8 889.7,1791.6 C904.3,1793.5 926.3,1790.5 933.6,1798.2 C941.0,1805.9 941.0,1827.5 933.6,1837.8 C926.3,1848.1 904.3,1854.7 889.7,1859.8 C875.0,1864.9 858.5,1867.8 845.7,1868.6 C832.9,1869.3 821.9,1867.5 812.7,1864.2 C803.6,1860.9 793.3,1856.8 790.8,1848.8 C788.2,1840.7 791.9,1825.0 797.4,1815.8Z" fill="#eeeeee" filter="url(#bl2)"/>
<path d="M627.1,1929.3 C634.0,1924.5 648.0,1928.7 662.9,1922.1 C677.7,1915.6 704.5,1897.4 716.4,1890.0 C728.3,1882.6 722.4,1880.5 734.3,1877.5 C746.2,1874.5 770.0,1872.7 787.9,1872.1 C805.7,1871.5 827.7,1871.0 841.4,1873.9 C855.1,1876.9 864.0,1881.4 870.0,1890.0 C876.0,1898.6 878.9,1913.8 877.1,1925.7 C875.4,1937.6 868.2,1952.5 859.3,1961.4 C850.4,1970.4 838.5,1973.3 823.6,1979.3 C808.7,1985.2 784.9,1994.8 770.0,1997.1 C755.1,1999.5 743.2,1993.0 734.3,1993.6 C725.4,1994.2 720.6,1996.5 716.4,2000.7 C712.3,2004.9 718.2,2012.0 709.3,2018.6 C700.4,2025.1 676.5,2033.5 662.9,2040.0 C649.2,2046.5 639.0,2050.7 627.1,2057.9 C615.2,2065.0 599.8,2079.3 591.4,2082.9 C583.1,2086.4 578.3,2084.6 577.1,2079.3 C576.0,2073.9 578.3,2061.4 584.3,2050.7 C590.2,2040.0 606.3,2026.9 612.9,2015.0 C619.4,2003.1 622.1,1990.0 623.6,1979.3 C625.1,1968.6 621.2,1959.0 621.8,1950.7 C622.4,1942.4 620.3,1934.0 627.1,1929.3Z" fill="#bebebe" filter="url(#bl2)"/>
<path d="M659.3,1886.4 C667.6,1879.8 686.1,1881.0 698.6,1878.6 C711.1,1876.2 722.4,1872.6 734.3,1872.1 C746.2,1871.7 767.0,1869.2 770.0,1875.7 C773.0,1882.3 761.1,1901.9 752.1,1911.4 C743.2,1921.0 730.1,1928.7 716.4,1932.9 C702.7,1937.0 681.3,1938.8 670.0,1936.4 C658.7,1934.0 650.4,1926.9 648.6,1918.6 C646.8,1910.2 651.0,1893.1 659.3,1886.4Z" fill="#b6b6b6" filter="url(#bl2)"/>
<path d="M718.2,1875.7 C719.7,1872.0 729.1,1868.3 734.3,1868.6 C739.5,1868.9 748.0,1873.5 749.3,1877.5 C750.6,1881.5 746.1,1890.3 742.1,1892.5 C738.2,1894.7 729.3,1893.5 725.4,1890.7 C721.4,1887.9 716.7,1879.4 718.2,1875.7Z" fill="#000000" filter="url(#bl1)"/>
<path d="M677.1,1892.9 C680.7,1891.9 690.8,1888.7 698.6,1887.1 C706.3,1885.6 719.4,1884.2 723.6,1883.6" fill="none" stroke="#282828" stroke-width="3" stroke-linecap="round" filter="url(#bl1)"/>
<path d="M745.0,1878.6 C749.2,1876.4 762.0,1869.9 770.0,1865.7 C778.0,1861.5 789.3,1855.6 793.2,1853.6" fill="none" stroke="#0f0f0f" stroke-width="4" stroke-linecap="round" filter="url(#bl1)"/>
<path d="M683.1,1944.0 C684.9,1934.8 705.1,1933.0 713.8,1933.0 C722.6,1933.0 730.0,1937.4 735.8,1944.0 C741.7,1950.5 749.0,1964.5 749.0,1972.5 C749.0,1980.6 743.5,1989.7 735.8,1992.3 C728.1,1994.9 711.6,1996.0 702.9,1987.9 C694.1,1979.9 681.2,1953.1 683.1,1944.0Z" fill="#5f5f5f" filter="url(#bl3)" opacity="0.9"/>
<path d="M573.2,2067.0 C577.9,2059.3 593.3,2048.0 604.0,2040.7 C614.6,2033.3 625.9,2027.5 636.9,2023.1 C647.9,2018.7 657.8,2018.7 669.9,2014.3 C682.0,2009.9 702.1,1997.4 709.5,1996.7 C716.8,1996.0 716.8,2004.8 713.8,2009.9 C710.9,2015.0 701.0,2022.3 691.9,2027.5 C682.7,2032.6 669.9,2035.5 658.9,2040.7 C647.9,2045.8 636.9,2051.6 625.9,2058.2 C614.9,2064.8 601.4,2075.5 593.0,2080.2 C584.5,2085.0 578.7,2089.0 575.4,2086.8 C572.1,2084.6 568.4,2074.7 573.2,2067.0Z" fill="#f5f5f5" filter="url(#bl2)"/>
<path d="M625.9,1965.9 C629.6,1955.7 639.9,1941.8 647.9,1935.2 C656.0,1928.6 667.0,1924.2 674.3,1926.4 C681.6,1928.6 687.5,1938.8 691.9,1948.4 C696.3,1957.9 702.1,1974.0 700.7,1983.5 C699.2,1993.0 691.9,2001.1 683.1,2005.5 C674.3,2009.9 657.4,2011.4 647.9,2009.9 C638.4,2008.4 629.6,2004.0 625.9,1996.7 C622.3,1989.4 622.3,1976.2 625.9,1965.9Z" fill="#e1e1e1" filter="url(#bl3)"/>
<path d="M735.8,1954.9 C734.0,1947.3 741.3,1934.1 746.8,1926.4 C752.3,1918.7 759.6,1912.5 768.8,1908.8 C777.9,1905.1 792.6,1902.9 801.8,1904.4 C810.9,1905.9 818.6,1911.7 823.7,1917.6 C828.9,1923.4 834.4,1934.8 832.5,1939.6 C830.7,1944.3 821.5,1943.2 812.7,1946.2 C804.0,1949.1 788.9,1952.7 779.8,1957.1 C770.6,1961.5 765.1,1972.9 757.8,1972.5 C750.5,1972.2 737.7,1962.6 735.8,1954.9Z" fill="#ffffff" filter="url(#bl2)"/>
<path d="M828.1,1965.9 C831.8,1958.6 839.1,1956.8 856.7,1954.9 C874.3,1953.1 920.8,1942.1 933.6,1954.9 C946.4,1967.8 941.0,2019.0 933.6,2031.9 C926.3,2044.7 902.5,2033.7 889.7,2031.9 C876.8,2030.0 865.9,2026.4 856.7,2020.9 C847.5,2015.4 839.5,2008.1 834.7,1998.9 C830.0,1989.7 824.5,1973.3 828.1,1965.9Z" fill="#e1e1e1" filter="url(#bl2)"/>
<path d="M834.7,1900.0 C841.0,1895.6 860.7,1895.6 867.7,1900.0 C874.7,1904.4 876.5,1916.8 876.5,1926.4 C876.5,1935.9 874.3,1952.4 867.7,1957.1 C861.1,1961.9 843.2,1960.1 836.9,1954.9 C830.7,1949.8 830.7,1935.5 830.3,1926.4 C830.0,1917.2 828.5,1904.4 834.7,1900.0Z" fill="#afafaf" filter="url(#bl2)"/>
<path d="M872.1,1900.0 C876.1,1896.3 897.7,1895.6 902.9,1900.0 C908.0,1904.4 905.1,1917.2 902.9,1926.4 C900.7,1935.5 895.2,1950.9 889.7,1954.9 C884.2,1959.0 871.7,1956.0 869.9,1950.5 C868.1,1945.1 878.3,1930.4 878.7,1922.0 C879.0,1913.6 868.1,1903.7 872.1,1900.0Z" fill="#000000" filter="url(#bl1)"/>
<path d="M863.3,1868.6 C866.2,1858.5 877.9,1862.0 885.3,1859.8 C892.6,1857.6 904.3,1845.3 907.3,1855.4 C910.2,1865.4 909.5,1909.2 902.9,1920.0 C896.3,1930.8 874.3,1928.6 867.7,1920.0 C861.1,1911.4 860.4,1878.6 863.3,1868.6Z" fill="#000000" filter="url(#bl1)"/>
<path d="M902.9,1870.8 C907.6,1860.7 928.5,1851.6 933.6,1859.8 C938.8,1868.0 938.4,1910.0 933.6,1920.0 C928.9,1930.0 910.2,1928.2 905.1,1920.0 C899.9,1911.8 898.1,1880.8 902.9,1870.8Z" fill="#d7d7d7" filter="url(#bl2)"/>
<path d="M702.9,2014.3 C712.4,2007.0 717.9,1999.6 727.0,1996.7 C736.2,1993.8 743.5,1995.2 757.8,1996.7 C772.1,1998.2 796.3,2001.1 812.7,2005.5 C829.2,2009.9 843.9,2017.9 856.7,2023.1 C869.5,2028.2 876.8,2034.8 889.7,2036.3 C902.5,2037.7 926.3,2028.2 933.6,2031.9 C941.0,2035.5 941.0,2052.4 933.6,2058.2 C926.3,2064.1 900.7,2062.3 889.7,2067.0 C878.7,2071.8 873.2,2078.0 867.7,2086.8 C862.2,2095.6 862.2,2117.9 856.7,2119.8 C851.2,2121.6 843.9,2105.1 834.7,2097.8 C825.6,2090.5 812.7,2079.5 801.8,2075.8 C790.8,2072.2 777.9,2076.6 768.8,2075.8 C759.6,2075.1 756.0,2073.3 746.8,2071.4 C737.7,2069.6 725.9,2064.8 713.8,2064.8 C701.8,2064.8 685.3,2065.9 674.3,2071.4 C663.3,2076.9 653.0,2097.1 647.9,2097.8 C642.8,2098.5 639.9,2085.3 643.5,2075.8 C647.2,2066.3 660.0,2050.9 669.9,2040.7 C679.8,2030.4 693.3,2021.6 702.9,2014.3Z" fill="#000000" filter="url(#bl1)"/>
<ellipse cx="796.3" cy="1972.5" rx="24.0" ry="25.0" fill="#000000" filter="url(#bl1)"/>
<ellipse cx="794.1" cy="1973.6" rx="9.0" ry="10.5" fill="#fafafa" filter="url(#bl1)"/>
<ellipse cx="743.5" cy="2036.7" rx="26.5" ry="28.0" fill="#fcfcfc" filter="url(#bl1)"/>
<path d="M812.7,2018.7 C816.4,2013.6 838.8,2017.9 845.7,2023.1 C852.7,2028.2 854.5,2042.5 854.5,2049.5 C854.5,2056.4 850.8,2064.1 845.7,2064.8 C840.6,2065.6 829.2,2061.5 823.7,2053.8 C818.2,2046.2 809.1,2023.8 812.7,2018.7Z" fill="#ebebeb" filter="url(#bl2)"/>
<ellipse cx="883.1" cy="2053.8" rx="7.0" ry="7.0" fill="#f0f0f0" filter="url(#bl1)"/>
<path d="M384.3,2144.0 C389.4,2136.6 398.9,2126.4 406.3,2119.8 C413.6,2113.2 419.1,2109.9 428.2,2104.4 C437.4,2098.9 450.6,2093.4 461.2,2086.8 C471.8,2080.2 482.8,2070.7 492.0,2064.8 C501.1,2059.0 507.0,2055.3 516.2,2051.6 C525.3,2048.0 536.7,2045.6 546.9,2042.9 C557.2,2040.1 567.4,2039.4 577.7,2035.2 C587.9,2031.0 601.1,2024.0 608.5,2017.6 C615.8,2011.2 618.0,1995.8 621.6,1996.7 C625.3,1997.6 631.9,2014.3 630.4,2023.1 C629.0,2031.9 621.6,2041.0 612.9,2049.5 C604.1,2057.9 586.1,2070.3 577.7,2073.6 C569.3,2076.9 569.6,2069.6 562.3,2069.2 C555.0,2068.9 542.2,2069.2 533.7,2071.4 C525.3,2073.6 519.1,2078.0 511.8,2082.4 C504.4,2086.8 498.9,2094.1 489.8,2097.8 C480.6,2101.5 467.8,2102.2 456.8,2104.4 C445.8,2106.6 433.0,2106.6 423.8,2111.0 C414.7,2115.4 407.7,2122.0 401.9,2130.8 C396.0,2139.6 393.1,2158.2 388.7,2163.7 C384.3,2169.2 376.2,2167.0 375.5,2163.7 C374.8,2160.4 379.2,2151.3 384.3,2144.0Z" fill="#000000" filter="url(#bl1)"/>
<path d="M388.7,2163.7 C390.5,2155.3 396.0,2139.6 401.9,2130.8 C407.7,2122.0 414.7,2115.4 423.8,2111.0 C433.0,2106.6 445.8,2106.6 456.8,2104.4 C467.8,2102.2 480.6,2101.5 489.8,2097.8 C498.9,2094.1 504.4,2086.8 511.8,2082.4 C519.1,2078.0 525.3,2073.6 533.7,2071.4 C542.2,2069.2 559.0,2066.7 562.3,2069.2 C565.6,2071.8 556.8,2080.2 553.5,2086.8 C550.2,2093.4 542.9,2101.5 542.5,2108.8 C542.2,2116.1 547.7,2123.4 551.3,2130.8 C555.0,2138.1 561.2,2145.4 564.5,2152.7 C567.8,2160.1 570.4,2165.6 571.1,2174.7 C571.8,2183.9 597.1,2202.2 568.9,2207.7 C540.7,2213.2 431.5,2212.1 401.9,2207.7 C372.2,2203.3 393.1,2188.6 390.9,2181.3 C388.7,2174.0 386.8,2172.2 388.7,2163.7Z" fill="#fcfcfc" filter="url(#bl1)"/>
<path d="M511.8,2082.4 C513.6,2076.9 525.3,2073.6 533.7,2071.4 C542.2,2069.2 559.0,2066.7 562.3,2069.2 C565.6,2071.8 556.8,2080.2 553.5,2086.8 C550.2,2093.4 547.7,2105.9 542.5,2108.8 C537.4,2111.7 527.9,2108.8 522.7,2104.4 C517.6,2100.0 509.9,2087.9 511.8,2082.4Z" fill="#b9b9b9" filter="url(#bl3)" opacity="0.8"/>
<ellipse cx="492.0" cy="2154.9" rx="15.0" ry="9.0" fill="#0a0a0a" filter="url(#bl2)"/>
<ellipse cx="456.8" cy="2163.7" rx="22.0" ry="10.0" fill="#bebebe" filter="url(#bl3)" opacity="0.8"/>
<path d="M555.7,2082.4 C561.2,2076.9 572.2,2073.3 577.7,2075.8 C583.2,2078.4 589.4,2090.5 588.7,2097.8 C587.9,2105.1 575.1,2108.8 573.3,2119.8 C571.5,2130.8 574.0,2149.1 577.7,2163.7 C581.4,2178.4 596.0,2200.4 595.3,2207.7 C594.5,2215.0 577.3,2213.2 573.3,2207.7 C569.3,2202.2 574.0,2186.4 571.1,2174.7 C568.2,2163.0 560.1,2148.4 555.7,2137.4 C551.3,2126.4 544.7,2117.9 544.7,2108.8 C544.7,2099.6 550.2,2087.9 555.7,2082.4Z" fill="#000000"/>
<path d="M582.0,2207.7 C572.8,2193.0 587.5,2139.9 593.0,2119.8 C598.5,2099.6 606.5,2094.1 614.9,2086.8 C623.4,2079.5 638.0,2074.0 643.5,2075.8 C649.0,2077.7 649.7,2088.6 647.9,2097.8 C646.1,2107.0 635.1,2119.8 632.5,2130.8 C630.0,2141.8 630.0,2150.9 632.5,2163.7 C635.1,2176.6 656.3,2200.4 647.9,2207.7 C639.5,2215.0 591.1,2222.3 582.0,2207.7Z" fill="#4b4b4b" filter="url(#bl2)"/>
<path d="M779.8,2086.8 C784.2,2076.9 801.8,2082.4 812.7,2082.4 C823.7,2082.4 838.4,2080.6 845.7,2086.8 C853.0,2093.0 853.0,2099.6 856.7,2119.8 C860.4,2139.9 880.5,2193.0 867.7,2207.7 C854.9,2222.3 793.3,2218.7 779.8,2207.7 C766.2,2196.7 786.4,2161.9 786.4,2141.8 C786.4,2121.6 775.4,2096.7 779.8,2086.8Z" fill="#4b4b4b" filter="url(#bl2)"/>
<path d="M845.7,2086.8 C847.5,2081.3 865.1,2081.3 867.7,2086.8 C870.3,2092.3 860.4,2107.0 861.1,2119.8 C861.8,2132.6 867.3,2149.1 872.1,2163.7 C876.8,2178.4 890.4,2200.4 889.7,2207.7 C888.9,2215.0 873.2,2222.3 867.7,2207.7 C862.2,2193.0 860.4,2139.9 856.7,2119.8 C853.0,2099.6 843.9,2092.3 845.7,2086.8Z" fill="#000000" filter="url(#bl1)"/>
<path d="M632.5,2141.8 C634.7,2130.0 641.0,2109.5 647.9,2097.8 C654.9,2086.1 663.3,2076.9 674.3,2071.4 C685.3,2065.9 701.8,2064.5 713.8,2064.8 C725.9,2065.2 737.7,2068.1 746.8,2073.6 C756.0,2079.1 762.6,2088.3 768.8,2097.8 C775.0,2107.3 781.6,2119.8 784.2,2130.8 C786.7,2141.8 786.4,2150.9 784.2,2163.7 C782.0,2176.6 793.0,2200.4 771.0,2207.7 C749.0,2215.0 675.0,2214.3 652.3,2207.7 C629.6,2201.1 638.0,2179.1 634.7,2168.1 C631.4,2157.1 630.3,2153.5 632.5,2141.8Z" fill="#ffffff" filter="url(#bl1)"/>
<ellipse cx="718.2" cy="2111.0" rx="17.0" ry="14.0" fill="#aaaaaa" filter="url(#bl3)" opacity="0.8"/>
<ellipse cx="705.1" cy="2161.5" rx="9.0" ry="12.0" fill="#969696" filter="url(#bl3)" opacity="0.8"/>
<path d="M858.9,2119.8 C862.6,2107.0 877.2,2097.1 889.7,2086.8 C902.1,2076.6 926.3,2038.1 933.6,2058.2 C941.0,2078.4 941.7,2182.8 933.6,2207.7 C925.6,2232.6 896.3,2215.0 885.3,2207.7 C874.3,2200.4 872.1,2178.4 867.7,2163.7 C863.3,2149.1 855.2,2132.6 858.9,2119.8Z" fill="#fafafa" filter="url(#bl1)"/>
<path d="M878.7,2108.8 C882.3,2110.6 895.5,2115.0 900.7,2119.8 C905.8,2124.5 908.0,2134.4 909.5,2137.4" fill="none" stroke="#787878" stroke-width="6" stroke-linecap="round" filter="url(#bl2)"/></g>
<g clip-path="url(#clipB)"><rect x="920" y="1640" width="660" height="565" fill="#000"/><path d="M954.9,1920.0 C957.9,1913.6 965.2,1895.5 972.5,1881.8 C979.9,1868.1 989.0,1852.5 998.9,1837.8 C1008.8,1823.2 1020.9,1806.3 1031.9,1793.8 C1042.9,1781.4 1053.8,1773.0 1064.8,1763.1 C1075.8,1753.2 1085.0,1743.7 1097.8,1734.5 C1110.6,1725.3 1127.1,1715.1 1141.8,1708.1 C1156.4,1701.2 1167.4,1697.9 1185.7,1692.7 C1204.0,1687.6 1232.6,1681.8 1251.6,1677.4 C1270.7,1673.0 1291.9,1668.2 1300.0,1666.4" fill="none" stroke="#4b4b4b" stroke-width="8" stroke-linecap="round" filter="url(#bl2)"/>
<ellipse cx="1108.8" cy="1732.3" rx="14.0" ry="8.0" fill="#969696" transform="rotate(-35 1108.8 1732.3)" filter="url(#bl2)"/>
<path d="M1309.9,1653.2 C1315.4,1653.6 1331.1,1655.6 1342.9,1655.4 C1354.6,1655.2 1374.0,1652.6 1380.2,1652.1" fill="none" stroke="#5a5a5a" stroke-width="5" stroke-linecap="round" filter="url(#bl2)"/>
<path d="M1474.7,1657.6 C1480.2,1658.3 1496.7,1660.1 1507.7,1662.0 C1518.7,1663.8 1535.2,1667.5 1540.7,1668.6" fill="none" stroke="#505050" stroke-width="5" stroke-linecap="round" filter="url(#bl2)"/>
<path d="M972.5,1845.1 C979.1,1833.0 985.3,1827.5 992.3,1827.5 C999.3,1827.5 1012.1,1833.0 1014.3,1845.1 C1016.5,1857.1 1008.1,1881.7 1005.5,1900.0 C1002.9,1918.3 1001.1,1933.0 998.9,1954.9 C996.7,1976.9 992.7,2011.7 992.3,2031.9 C991.9,2052.0 993.0,2061.2 996.7,2075.8 C1000.4,2090.5 1004.8,2103.3 1014.3,2119.8 C1023.8,2136.3 1043.6,2160.1 1053.8,2174.7 C1064.1,2189.4 1081.3,2202.2 1075.8,2207.7 C1070.3,2213.2 1037.4,2218.7 1020.9,2207.7 C1004.4,2196.7 988.3,2163.7 976.9,2141.8 C965.6,2119.8 957.9,2101.5 952.7,2075.8 C947.6,2050.2 946.2,2017.2 946.2,1987.9 C946.2,1958.6 948.4,1923.8 952.7,1900.0 C957.1,1876.2 965.9,1857.1 972.5,1845.1Z" fill="#373737" filter="url(#bl2)"/>
<path d="M928.6,1900.0 C929.3,1911.0 931.5,1944.0 933.0,1965.9 C934.4,1987.9 933.7,2009.9 937.4,2031.9 C941.0,2053.8 947.3,2075.8 954.9,2097.8 C962.6,2119.8 974.4,2145.4 983.5,2163.7 C992.7,2182.1 1005.5,2200.4 1009.9,2207.7" fill="none" stroke="#000000" stroke-width="10" stroke-linecap="round" filter="url(#bl1)"/>
<path d="M996.7,1870.8 C998.9,1864.5 1007.7,1847.0 1014.3,1837.8 C1020.9,1828.6 1030.0,1819.1 1036.3,1815.8 C1042.5,1812.5 1049.1,1814.4 1051.6,1818.0 C1054.2,1821.7 1053.5,1831.9 1051.6,1837.8 C1049.8,1843.7 1046.5,1848.4 1040.7,1853.2 C1034.8,1857.9 1023.1,1862.7 1016.5,1866.4 C1009.9,1870.0 1004.4,1874.4 1001.1,1875.2 C997.8,1875.9 994.5,1877.0 996.7,1870.8Z" fill="#fcfcfc" filter="url(#bl1)"/>
<ellipse cx="973.6" cy="1979.1" rx="12.5" ry="48.0" fill="#fcfcfc" transform="rotate(8 973.6 1979.1)" filter="url(#bl1)"/>
<path d="M992.3,2097.8 C995.2,2104.4 1002.9,2124.2 1009.9,2137.4 C1016.8,2150.5 1030.0,2170.3 1034.1,2176.9" fill="none" stroke="#fcfcfc" stroke-width="13" stroke-linecap="round" filter="url(#bl1)"/>
<path d="M992.0,2032.0 C992.0,2017.3 994.8,2000.8 997.0,1988.0 C999.2,1975.2 1001.2,1966.3 1005.0,1955.0 C1008.8,1943.7 1014.2,1932.5 1020.0,1920.0 C1025.8,1907.5 1034.3,1897.3 1040.0,1880.0 C1045.7,1862.7 1049.5,1830.3 1054.0,1816.0 C1058.5,1801.7 1062.3,1801.3 1067.0,1794.0 C1071.7,1786.7 1075.0,1779.3 1082.0,1772.0 C1089.0,1764.7 1098.3,1757.3 1109.0,1750.0 C1119.7,1742.7 1132.2,1735.3 1146.0,1728.0 C1159.8,1720.7 1174.5,1712.7 1192.0,1706.0 C1209.5,1699.3 1233.0,1693.2 1251.0,1688.0 C1269.0,1682.8 1286.5,1676.5 1300.0,1675.0 C1313.5,1673.5 1319.3,1679.3 1332.0,1679.0 C1344.7,1678.7 1363.2,1673.7 1376.0,1673.0 C1388.8,1672.3 1398.0,1672.2 1409.0,1675.0 C1420.0,1677.8 1431.8,1686.0 1442.0,1690.0 C1452.2,1694.0 1460.8,1697.8 1470.0,1699.0 C1479.2,1700.2 1487.0,1695.2 1497.0,1697.0 C1507.0,1698.8 1521.2,1705.5 1530.0,1710.0 C1538.8,1714.5 1550.0,1718.5 1550.0,1724.0 C1550.0,1729.5 1537.0,1735.0 1530.0,1743.0 C1523.0,1751.0 1514.3,1763.5 1508.0,1772.0 C1501.7,1780.5 1499.3,1786.7 1492.0,1794.0 C1484.7,1801.3 1472.3,1809.5 1464.0,1816.0 C1455.7,1822.5 1450.2,1827.2 1442.0,1833.0 C1433.8,1838.8 1424.2,1842.8 1415.0,1851.0 C1405.8,1859.2 1397.0,1873.0 1387.0,1882.0 C1377.0,1891.0 1366.3,1898.2 1355.0,1905.0 C1343.7,1911.8 1331.0,1918.8 1319.0,1923.0 C1307.0,1927.2 1293.8,1930.3 1283.0,1930.0 C1272.2,1929.7 1261.8,1921.0 1254.0,1921.0 C1246.2,1921.0 1244.5,1929.2 1236.0,1930.0 C1227.5,1930.8 1213.0,1928.0 1203.0,1926.0 C1193.0,1924.0 1181.2,1917.3 1176.0,1918.0 C1170.8,1918.7 1170.0,1925.0 1172.0,1930.0 C1174.0,1935.0 1181.7,1942.0 1188.0,1948.0 C1194.3,1954.0 1203.8,1959.3 1210.0,1966.0 C1216.2,1972.7 1223.5,1982.3 1225.0,1988.0 C1226.5,1993.7 1223.7,1994.2 1219.0,2000.0 C1214.3,2005.8 1204.3,2015.8 1197.0,2023.0 C1189.7,2030.2 1184.2,2036.3 1175.0,2043.0 C1165.8,2049.7 1151.2,2055.7 1142.0,2063.0 C1132.8,2070.3 1127.3,2079.3 1120.0,2087.0 C1112.7,2094.7 1102.8,2099.8 1098.0,2109.0 C1093.2,2118.2 1094.7,2131.8 1091.0,2142.0 C1087.3,2152.2 1082.2,2166.3 1076.0,2170.0 C1069.8,2173.7 1061.3,2168.7 1054.0,2164.0 C1046.7,2159.3 1039.3,2151.2 1032.0,2142.0 C1024.7,2132.8 1015.8,2120.0 1010.0,2109.0 C1004.2,2098.0 1000.0,2088.8 997.0,2076.0 C994.0,2063.2 992.0,2046.7 992.0,2032.0Z" fill="#acacac" filter="url(#bl1)"/>
<ellipse cx="1173.8" cy="1766.9" rx="8.0" ry="6.5" fill="#323232" filter="url(#bl3)" opacity="0.9"/>
<ellipse cx="1028.8" cy="2006.3" rx="10.2" ry="10.9" fill="#2d2d2d" filter="url(#bl3)" opacity="0.9"/>
<ellipse cx="1083.2" cy="1901.1" rx="32.6" ry="21.8" fill="#5f5f5f" filter="url(#bl3)" opacity="0.7"/>
<ellipse cx="1057.8" cy="1937.4" rx="25.4" ry="21.8" fill="#5f5f5f" filter="url(#bl3)" opacity="0.7"/>
<ellipse cx="1028.8" cy="1893.8" rx="21.8" ry="29.0" fill="#696969" filter="url(#bl3)" opacity="0.5"/>
<ellipse cx="1108.6" cy="1828.6" rx="25.4" ry="18.1" fill="#737373" filter="url(#bl3)" opacity="0.5"/>
<ellipse cx="1039.7" cy="1966.4" rx="47.1" ry="94.3" fill="#6e6e6e" filter="url(#bl3)" opacity="0.45"/>
<ellipse cx="1072.3" cy="1857.6" rx="39.9" ry="47.1" fill="#6e6e6e" filter="url(#bl3)" opacity="0.4"/>
<ellipse cx="1353.8" cy="1796.0" rx="9.0" ry="9.0" fill="#fcfcfc" filter="url(#bl1)"/>
<ellipse cx="1247.3" cy="1802.6" rx="9.0" ry="9.0" fill="#fcfcfc" filter="url(#bl1)"/>
<ellipse cx="1301.1" cy="1797.1" rx="6.0" ry="6.0" fill="#fcfcfc" filter="url(#bl1)"/>
<ellipse cx="1347.3" cy="1771.9" rx="5.0" ry="5.0" fill="#fcfcfc" filter="url(#bl1)"/>
<ellipse cx="1430.8" cy="1778.5" rx="6.0" ry="6.0" fill="#fcfcfc" filter="url(#bl1)"/>
<ellipse cx="1305.5" cy="1714.7" rx="4.0" ry="4.0" fill="#fcfcfc" filter="url(#bl1)"/>
<ellipse cx="1160.4" cy="1837.8" rx="8.0" ry="10.4" fill="#fcfcfc" filter="url(#bl1)"/>
<ellipse cx="1078.0" cy="1958.2" rx="7.0" ry="9.1" fill="#fcfcfc" filter="url(#bl1)"/>
<ellipse cx="1148.4" cy="1964.8" rx="4.0" ry="4.0" fill="#f0f0f0" filter="url(#bl1)"/>
<ellipse cx="1244.0" cy="1823.5" rx="8.0" ry="8.0" fill="#000000" filter="url(#bl1)"/>
<path d="M1244.0,1823.5 L1242.9,1840.0" fill="none" stroke="#0a0a0a" stroke-width="4" stroke-linecap="round" filter="url(#bl1)"/>
<path d="M1474.7,1826.8 C1480.2,1815.5 1498.5,1795.7 1507.7,1782.9 C1516.8,1770.0 1522.3,1757.9 1529.7,1749.9 C1537.0,1741.8 1543.6,1737.4 1551.6,1734.5 C1559.7,1731.6 1573.6,1715.1 1578.0,1732.3 C1582.4,1749.5 1586.1,1818.4 1578.0,1837.8 C1570.0,1857.2 1546.9,1846.6 1529.7,1848.8 C1512.5,1851.0 1483.9,1854.7 1474.7,1851.0 C1465.6,1847.3 1469.2,1838.2 1474.7,1826.8Z" fill="#000000" filter="url(#bl1)"/>
<path d="M1463.7,1858.7 C1471.1,1858.9 1494.9,1861.1 1507.7,1859.8 C1520.5,1858.5 1530.0,1854.7 1540.7,1851.0 C1551.3,1847.3 1566.3,1840.0 1571.4,1837.8" fill="none" stroke="#f0f0f0" stroke-width="7" stroke-linecap="round" filter="url(#bl1)"/>
<path d="M1386.8,1920.0 C1390.5,1909.4 1399.6,1892.2 1408.8,1884.0 C1417.9,1875.8 1428.9,1873.5 1441.8,1870.8 C1454.6,1868.0 1471.1,1867.5 1485.7,1867.5 C1500.4,1867.5 1514.3,1872.1 1529.7,1870.8 C1545.1,1869.5 1570.0,1847.0 1578.0,1859.8 C1586.1,1872.6 1609.9,1933.0 1578.0,1947.7 C1546.2,1962.3 1418.7,1952.3 1386.8,1947.7 C1354.9,1943.1 1383.2,1930.6 1386.8,1920.0Z" fill="#b9b9b9" filter="url(#bl2)"/>
<path d="M1386.8,1900.0 C1416.8,1897.8 1546.2,1883.5 1578.0,1900.0 C1609.9,1916.5 1586.1,1983.2 1578.0,1998.9 C1570.0,2014.7 1545.1,1995.2 1529.7,1994.5 C1514.3,1993.8 1500.4,1996.3 1485.7,1994.5 C1471.1,1992.7 1458.2,1987.5 1441.8,1983.5 C1425.3,1979.5 1392.3,1976.2 1386.8,1970.3 C1381.3,1964.5 1403.3,1955.3 1408.8,1948.4 C1414.3,1941.4 1421.6,1934.4 1419.8,1928.6 C1417.9,1922.7 1403.3,1917.9 1397.8,1913.2 C1392.3,1908.4 1356.8,1902.2 1386.8,1900.0Z" fill="#b9b9b9" filter="url(#bl2)"/>
<path d="M1503.3,1937.4 C1506.2,1932.6 1520.9,1929.7 1529.7,1926.4 C1538.5,1923.1 1550.2,1915.4 1556.0,1917.6 C1561.9,1919.8 1567.0,1933.3 1564.8,1939.6 C1562.6,1945.8 1551.6,1952.4 1542.9,1954.9 C1534.1,1957.5 1518.7,1957.9 1512.1,1954.9 C1505.5,1952.0 1500.4,1942.1 1503.3,1937.4Z" fill="#000000" filter="url(#bl2)"/>
<path d="M1525.3,1900.0 C1528.9,1897.4 1550.2,1897.8 1556.0,1900.0 C1561.9,1902.2 1564.1,1910.6 1560.4,1913.2 C1556.8,1915.8 1539.9,1917.6 1534.1,1915.4 C1528.2,1913.2 1521.6,1902.6 1525.3,1900.0Z" fill="#000000" filter="url(#bl2)"/>
<path d="M1179.1,1915.4 C1178.4,1912.5 1195.6,1927.1 1207.7,1928.6 C1219.8,1930.0 1236.3,1923.8 1251.6,1924.2 C1267.0,1924.5 1291.9,1922.7 1300.0,1930.8 C1308.1,1938.8 1304.4,1965.9 1300.0,1972.5 C1295.6,1979.1 1281.7,1967.8 1273.6,1970.3 C1265.6,1972.9 1257.9,1982.1 1251.6,1987.9 C1245.4,1993.8 1240.3,2004.4 1236.3,2005.5 C1232.2,2006.6 1228.9,2000.0 1227.5,1994.5 C1226.0,1989.0 1230.0,1980.6 1227.5,1972.5 C1224.9,1964.5 1220.1,1955.7 1212.1,1946.2 C1204.0,1936.6 1179.9,1918.3 1179.1,1915.4Z" fill="#000000" filter="url(#bl1)"/>
<path d="M1186.8,1924.2 C1190.5,1921.1 1211.4,1928.9 1222.0,1928.6 C1232.6,1928.2 1237.7,1922.0 1250.5,1922.0 C1263.4,1922.0 1289.0,1924.9 1298.9,1928.6 C1308.8,1932.2 1311.0,1938.8 1309.9,1944.0 C1308.8,1949.1 1299.6,1955.7 1292.3,1959.3 C1285.0,1963.0 1272.2,1961.9 1265.9,1965.9 C1259.7,1970.0 1257.1,1976.9 1254.9,1983.5 C1252.7,1990.1 1254.6,1998.9 1252.7,2005.5 C1250.9,2012.1 1249.1,2018.9 1244.0,2023.1 C1238.8,2027.3 1229.3,2029.3 1222.0,2030.8 C1214.7,2032.2 1204.4,2033.2 1200.0,2031.9 C1195.6,2030.6 1192.3,2026.4 1195.6,2023.1 C1198.9,2019.8 1214.1,2016.8 1219.8,2012.1 C1225.5,2007.3 1228.0,2001.1 1229.7,1994.5 C1231.3,1987.9 1231.3,1979.1 1229.7,1972.5 C1228.0,1965.9 1224.7,1959.2 1219.8,1954.9 C1214.8,1950.7 1205.5,1952.4 1200.0,1947.3 C1194.5,1942.1 1183.2,1927.3 1186.8,1924.2Z" fill="#000000" filter="url(#bl1)"/>
<path d="M1225.3,1937.4 C1226.7,1932.2 1242.1,1934.1 1251.6,1935.2 C1261.2,1936.3 1278.8,1938.8 1282.4,1944.0 C1286.1,1949.1 1280.2,1962.3 1273.6,1965.9 C1267.0,1969.6 1250.9,1970.7 1242.9,1965.9 C1234.8,1961.2 1223.8,1942.5 1225.3,1937.4Z" fill="#555555" filter="url(#bl3)" opacity="0.9"/>
<path d="M1252.7,1998.9 C1252.7,1990.8 1258.2,1980.6 1265.9,1974.7 C1273.6,1968.9 1286.1,1965.2 1298.9,1963.7 C1311.7,1962.3 1330.8,1963.4 1342.9,1965.9 C1354.9,1968.5 1369.6,1971.8 1371.4,1979.1 C1373.3,1986.4 1360.4,2001.1 1353.8,2009.9 C1347.3,2018.7 1341.0,2027.5 1331.9,2031.9 C1322.7,2036.3 1309.9,2037.7 1298.9,2036.3 C1287.9,2034.8 1273.6,2029.3 1265.9,2023.1 C1258.2,2016.8 1252.7,2007.0 1252.7,1998.9Z" fill="#dedede" filter="url(#bl2)"/>
<path d="M1305.5,1939.6 C1313.6,1935.5 1338.5,1935.9 1353.8,1933.0 C1369.2,1930.0 1386.8,1922.7 1397.8,1922.0 C1408.8,1921.2 1417.9,1924.2 1419.8,1928.6 C1421.6,1933.0 1416.1,1942.9 1408.8,1948.4 C1401.5,1953.8 1388.6,1959.0 1375.8,1961.5 C1363.0,1964.1 1343.6,1964.5 1331.9,1963.7 C1320.1,1963.0 1309.9,1961.2 1305.5,1957.1 C1301.1,1953.1 1297.4,1943.6 1305.5,1939.6Z" fill="#e8e8e8" filter="url(#bl2)"/>
<path d="M1386.8,1970.3 C1394.1,1967.8 1425.3,1969.6 1441.8,1972.5 C1458.2,1975.5 1478.4,1982.8 1485.7,1987.9 C1493.0,1993.0 1493.0,2002.6 1485.7,2003.3 C1478.4,2004.0 1456.4,1994.9 1441.8,1992.3 C1427.1,1989.7 1407.0,1991.6 1397.8,1987.9 C1388.6,1984.2 1379.5,1972.9 1386.8,1970.3Z" fill="#e1e1e1" filter="url(#bl2)"/>
<path d="M1408.8,1948.4 C1409.5,1942.9 1416.8,1933.3 1424.2,1930.8 C1431.5,1928.2 1444.3,1930.8 1452.7,1933.0 C1461.2,1935.2 1470.7,1937.7 1474.7,1944.0 C1478.8,1950.2 1480.6,1965.6 1476.9,1970.3 C1473.3,1975.1 1462.3,1973.6 1452.7,1972.5 C1443.2,1971.4 1427.1,1967.8 1419.8,1963.7 C1412.5,1959.7 1408.1,1953.8 1408.8,1948.4Z" fill="#000000" filter="url(#bl1)"/>
<ellipse cx="1446.2" cy="1954.9" rx="9.5" ry="11.0" fill="#f5f5f5" filter="url(#bl1)"/>
<ellipse cx="1454.9" cy="1919.8" rx="13.0" ry="11.0" fill="#fafafa" filter="url(#bl2)"/>
<path d="M1331.9,2034.1 C1341.8,2028.9 1350.9,2016.5 1358.2,2009.9 C1365.6,2003.3 1370.0,1996.3 1375.8,1994.5 C1381.7,1992.7 1392.7,1992.7 1393.4,1998.9 C1394.1,2005.1 1382.1,2023.1 1380.2,2031.9 C1378.4,2040.7 1386.8,2047.3 1382.4,2051.6 C1378.0,2056.0 1363.7,2052.4 1353.8,2058.2 C1344.0,2064.1 1330.4,2076.6 1323.1,2086.8 C1315.8,2097.1 1311.4,2099.6 1309.9,2119.8 C1308.4,2139.9 1320.5,2193.0 1314.3,2207.7 C1308.1,2222.3 1280.2,2218.7 1272.5,2207.7 C1264.8,2196.7 1271.1,2157.1 1268.1,2141.8 C1265.2,2126.4 1257.5,2124.5 1254.9,2115.4 C1252.4,2106.2 1252.7,2097.1 1252.7,2086.8 C1252.7,2076.6 1252.7,2063.0 1254.9,2053.8 C1257.1,2044.7 1258.6,2034.1 1265.9,2031.9 C1273.3,2029.7 1287.9,2040.3 1298.9,2040.7 C1309.9,2041.0 1322.0,2039.2 1331.9,2034.1Z" fill="#000000" filter="url(#bl1)"/>
<path d="M1441.8,1992.3 C1447.3,1986.1 1471.1,2002.2 1485.7,2003.3 C1500.4,2004.4 1514.3,1999.6 1529.7,1998.9 C1545.1,1998.2 1570.0,1995.6 1578.0,1998.9 C1586.1,2002.2 1582.4,2014.7 1578.0,2018.7 C1573.6,2022.7 1559.7,2019.0 1551.6,2023.1 C1543.6,2027.1 1537.0,2032.2 1529.7,2042.9 C1522.3,2053.5 1509.5,2074.0 1507.7,2086.8 C1505.9,2099.6 1513.2,2108.8 1518.7,2119.8 C1524.2,2130.8 1530.8,2143.6 1540.7,2152.7 C1550.5,2161.9 1571.8,2165.6 1578.0,2174.7 C1584.2,2183.9 1600.7,2202.2 1578.0,2207.7 C1555.3,2213.2 1462.6,2215.0 1441.8,2207.7 C1420.9,2200.4 1449.8,2176.6 1452.7,2163.7 C1455.7,2150.9 1459.3,2141.8 1459.3,2130.8 C1459.3,2119.8 1456.4,2107.7 1452.7,2097.8 C1449.1,2087.9 1437.4,2081.0 1437.4,2071.4 C1437.4,2061.9 1452.0,2053.8 1452.7,2040.7 C1453.5,2027.5 1436.3,1998.5 1441.8,1992.3Z" fill="#000000" filter="url(#bl1)"/>
<path d="M1265.9,2108.8 C1269.2,2099.6 1285.7,2096.0 1292.3,2097.8 C1298.9,2099.6 1303.3,2108.8 1305.5,2119.8 C1307.7,2130.8 1304.0,2149.1 1305.5,2163.7 C1307.0,2178.4 1317.9,2200.4 1314.3,2207.7 C1310.6,2215.0 1290.5,2216.8 1283.5,2207.7 C1276.6,2198.5 1275.5,2169.2 1272.5,2152.7 C1269.6,2136.3 1262.6,2117.9 1265.9,2108.8Z" fill="#2d2d2d" filter="url(#bl3)"/>
<path d="M1454.9,2130.8 C1460.4,2117.9 1476.9,2125.3 1485.7,2130.8 C1494.5,2136.3 1501.1,2150.9 1507.7,2163.7 C1514.3,2176.6 1534.4,2200.4 1525.3,2207.7 C1516.1,2215.0 1464.5,2220.5 1452.7,2207.7 C1441.0,2194.9 1449.5,2143.6 1454.9,2130.8Z" fill="#3c3c3c" filter="url(#bl3)"/>
<path d="M1336.3,2040.7 C1338.5,2031.9 1359.0,2009.9 1367.0,2005.5 C1375.1,2001.1 1382.4,2008.4 1384.6,2014.3 C1386.8,2020.1 1385.3,2033.3 1380.2,2040.7 C1375.1,2048.0 1361.2,2058.2 1353.8,2058.2 C1346.5,2058.2 1334.1,2049.5 1336.3,2040.7Z" fill="#6e6e6e" filter="url(#bl3)" opacity="0.9"/>
<ellipse cx="1419.8" cy="2018.7" rx="32.0" ry="30.0" fill="#ebebeb" filter="url(#bl2)"/>
<ellipse cx="1540.7" cy="2015.4" rx="6.0" ry="6.0" fill="#f5f5f5" filter="url(#bl1)"/>
<path d="M1082.4,2174.7 C1085.0,2168.5 1092.3,2150.2 1097.8,2137.4 C1103.3,2124.5 1108.8,2108.4 1115.4,2097.8 C1122.0,2087.2 1128.6,2081.0 1137.4,2073.6 C1146.2,2066.3 1158.2,2060.1 1168.1,2053.8 C1178.0,2047.6 1188.3,2042.9 1196.7,2036.3 C1205.1,2029.7 1212.5,2019.8 1218.7,2014.3 C1224.9,2008.8 1231.5,2005.1 1234.1,2003.3" fill="none" stroke="#000000" stroke-width="12" stroke-linecap="round" filter="url(#bl1)"/>
<path d="M1093.4,2152.7 C1093.4,2140.3 1102.6,2119.8 1108.8,2108.8 C1115.0,2097.8 1121.6,2094.9 1130.8,2086.8 C1139.9,2078.8 1152.7,2068.1 1163.7,2060.4 C1174.7,2052.7 1185.7,2044.7 1196.7,2040.7 C1207.7,2036.6 1220.5,2034.1 1229.7,2036.3 C1238.8,2038.5 1246.2,2046.2 1251.6,2053.8 C1257.1,2061.5 1262.6,2075.1 1262.6,2082.4 C1262.6,2089.7 1254.9,2093.4 1251.6,2097.8 C1248.4,2102.2 1242.1,2105.1 1242.9,2108.8 C1243.6,2112.5 1251.3,2114.7 1256.0,2119.8 C1260.8,2124.9 1268.9,2131.9 1271.4,2139.6 C1274.0,2147.3 1274.7,2157.9 1271.4,2165.9 C1268.1,2174.0 1258.6,2181.0 1251.6,2187.9 C1244.7,2194.9 1249.8,2204.4 1229.7,2207.7 C1209.5,2211.0 1150.9,2211.7 1130.8,2207.7 C1110.6,2203.7 1115.0,2192.7 1108.8,2183.5 C1102.6,2174.4 1093.4,2165.2 1093.4,2152.7Z" fill="#fefefe" filter="url(#bl1)"/>
<path d="M1174.7,2136.3 C1178.4,2135.0 1189.4,2131.3 1196.7,2128.6 C1204.0,2125.8 1211.0,2123.1 1218.7,2119.8 C1226.4,2116.5 1238.8,2110.6 1242.9,2108.8" fill="none" stroke="#191919" stroke-width="10" stroke-linecap="round" filter="url(#bl2)"/>
<path d="M1309.9,2119.8 C1310.6,2107.3 1313.2,2098.5 1318.7,2089.0 C1324.2,2079.5 1333.3,2068.9 1342.9,2062.6 C1352.4,2056.4 1364.8,2052.7 1375.8,2051.6 C1386.8,2050.5 1398.5,2052.7 1408.8,2056.0 C1419.0,2059.3 1430.0,2064.5 1437.4,2071.4 C1444.7,2078.4 1449.1,2087.9 1452.7,2097.8 C1456.4,2107.7 1459.3,2119.8 1459.3,2130.8 C1459.3,2141.8 1455.7,2150.9 1452.7,2163.7 C1449.8,2176.6 1463.0,2200.4 1441.8,2207.7 C1420.5,2215.0 1346.5,2215.0 1325.3,2207.7 C1304.0,2200.4 1316.8,2178.4 1314.3,2163.7 C1311.7,2149.1 1309.2,2132.2 1309.9,2119.8Z" fill="#ffffff" filter="url(#bl1)"/>
<path d="M1347.3,2183.5 C1349.8,2176.9 1356.4,2171.1 1364.8,2168.1 C1373.3,2165.2 1388.6,2164.5 1397.8,2165.9 C1407.0,2167.4 1416.5,2170.0 1419.8,2176.9 C1423.1,2183.9 1429.3,2202.6 1417.6,2207.7 C1405.9,2212.8 1361.2,2211.7 1349.5,2207.7 C1337.7,2203.7 1344.7,2190.1 1347.3,2183.5Z" fill="#323232" filter="url(#bl2)"/>
<path d="M1507.7,2086.8 C1509.5,2074.0 1522.3,2053.8 1529.7,2042.9 C1537.0,2031.9 1543.6,2026.4 1551.6,2020.9 C1559.7,2015.4 1573.6,1984.2 1578.0,2009.9 C1582.4,2035.5 1584.2,2150.9 1578.0,2174.7 C1571.8,2198.5 1550.5,2161.9 1540.7,2152.7 C1530.8,2143.6 1524.2,2130.8 1518.7,2119.8 C1513.2,2108.8 1505.9,2099.6 1507.7,2086.8Z" fill="#fcfcfc" filter="url(#bl1)"/>
<path d="M1529.7,2071.4 C1532.6,2069.2 1543.6,2072.9 1551.6,2075.8 C1559.7,2078.8 1573.6,2083.2 1578.0,2089.0 C1582.4,2094.9 1582.4,2107.7 1578.0,2111.0 C1573.6,2114.3 1559.0,2112.5 1551.6,2108.8 C1544.3,2105.1 1537.7,2095.2 1534.1,2089.0 C1530.4,2082.8 1526.7,2073.6 1529.7,2071.4Z" fill="#000000" filter="url(#bl2)"/></g>
</g>
<rect x="922" y="1648" width="5.5" height="549" fill="#8a0f0f"/>
<rect x="922" y="1653" width="150" height="66" fill="#000"/>
<rect x="276" y="1646" width="1297" height="3.6" fill="#8f2525"/>
<rect x="276" y="2194.2" width="1297" height="5.6" fill="#8f1515"/>
<rect x="277.6" y="1646" width="3.6" height="553.8" fill="#8a0d0d"/>
<rect x="1567.4" y="1646" width="5.4" height="553.8" fill="#8f1b1b"/>
<text transform="translate(311.5 1697.8) scale(1 1.05)" font-size="28.3" fill="#fff">Baseline</text>
<text transform="translate(951.3 1697.8) scale(1 1.05)" font-size="28.6" fill="#fff">6 months</text>
<polygon points="489.7,1748.5 539.7,1748.5 539.7,1756.5 563.7,1745.0 539.7,1733.5 539.7,1741.5 489.7,1741.5" fill="#fa0a14"/>
<polygon points="527.0,1935.8 554.5,1902.8 560.6,1907.9 567.1,1882.1 542.9,1893.2 549.1,1898.3 521.6,1931.4" fill="#fa0a14"/>
<polygon points="523.0,2068.2 550.8,2035.0 556.9,2040.1 563.5,2014.3 539.3,2025.3 545.4,2030.5 517.6,2063.8" fill="#fa0a14"/>
<polygon points="240.0,1970.5 289.2,1970.5 289.2,1978.5 313.2,1967.0 289.2,1955.5 289.2,1963.5 240.0,1963.5" fill="#fa0a14"/>
<polygon points="1079.1,1772.7 1128.7,1772.7 1128.7,1780.7 1152.7,1769.2 1128.7,1757.7 1128.7,1765.7 1079.1,1765.7" fill="#fa0a14"/>
<polygon points="1138.7,1929.5 1165.7,1896.5 1171.9,1901.6 1178.2,1875.7 1154.1,1887.0 1160.3,1892.1 1133.3,1925.1" fill="#fa0a14"/>
<polygon points="1139.0,2051.7 1165.4,2019.6 1171.6,2024.7 1178.0,1998.9 1153.9,2010.1 1160.0,2015.2 1133.6,2047.3" fill="#fa0a14"/>
<polygon points="931.9,1968.8 981.5,1968.8 981.5,1976.8 1005.5,1965.3 981.5,1953.8 981.5,1961.8 931.9,1961.8" fill="#fa0a14"/>
</svg></body></html>
